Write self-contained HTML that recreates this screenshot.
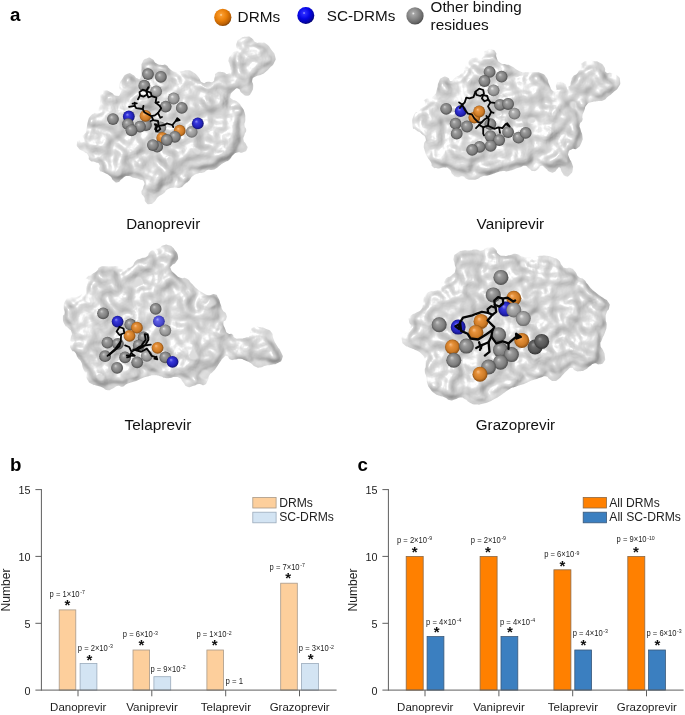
<!DOCTYPE html><html><head><meta charset="utf-8"><title>Figure</title><style>html,body{margin:0;padding:0;background:#fff}body{width:685px;height:715px;overflow:hidden}</style></head><body><svg width="685" height="715" viewBox="0 0 685 715" style="display:block;font-family:'Liberation Sans',sans-serif">
<defs>
<filter id="surf1" x="-5%" y="-5%" width="110%" height="110%" color-interpolation-filters="sRGB">
<feTurbulence type="fractalNoise" baseFrequency="0.055" numOctaves="2" seed="11" result="n0"/>
<feGaussianBlur in="n0" stdDeviation="1.0" result="n"/>
<feColorMatrix in="n" type="matrix" values="0 0 0 0 0  0 0 0 0 0  0 0 0 0 0  2.0 0 0 0 -0.5" result="h1"/>
<feGaussianBlur in="SourceAlpha" stdDeviation="4.5" result="sa"/>
<feGaussianBlur in="SourceAlpha" stdDeviation="7" result="sa7"/>
<feComposite in="sa7" in2="h1" operator="arithmetic" k1="0" k2="1" k3="0.4" k4="-0.2" result="thin"/>
<feComponentTransfer in="thin" result="inner0"><feFuncA type="linear" slope="14" intercept="-9.6"/></feComponentTransfer>
<feGaussianBlur in="inner0" stdDeviation="0.9" result="inner"/>
<feComposite in="h1" in2="sa" operator="arithmetic" k1="0.5" k2="0" k3="0.12" k4="0" result="hm0"/>
<feComposite in="hm0" in2="inner" operator="arithmetic" k1="0" k2="1" k3="0.07" k4="0" result="hm"/>
<feDiffuseLighting in="hm" surfaceScale="5.2" diffuseConstant="0.862" lighting-color="#ffffff" result="dl"><feDistantLight azimuth="225" elevation="80"/></feDiffuseLighting>
<feSpecularLighting in="hm" surfaceScale="4.5" specularConstant="0.17" specularExponent="110" lighting-color="#ffffff" result="sl"><feDistantLight azimuth="225" elevation="66"/></feSpecularLighting>
<feComposite in="dl" in2="sl" operator="arithmetic" k1="0" k2="1" k3="1" k4="0" result="dl2"/>
<feColorMatrix in="inner" type="matrix" values="0 0 0 1 0  0 0 0 1 0  0 0 0 1 0  0 0 0 0 1" result="innerw"/>
<feComposite in="dl2" in2="innerw" operator="arithmetic" k1="-0.028" k2="1" k3="0" k4="0" result="lit"/>
<feGaussianBlur in="SourceAlpha" stdDeviation="0.6" result="mask"/>
<feComposite in="lit" in2="mask" operator="in"/>
</filter>
<filter id="surf2" x="-5%" y="-5%" width="110%" height="110%" color-interpolation-filters="sRGB">
<feTurbulence type="fractalNoise" baseFrequency="0.055" numOctaves="2" seed="23" result="n0"/>
<feGaussianBlur in="n0" stdDeviation="1.0" result="n"/>
<feColorMatrix in="n" type="matrix" values="0 0 0 0 0  0 0 0 0 0  0 0 0 0 0  2.0 0 0 0 -0.5" result="h1"/>
<feGaussianBlur in="SourceAlpha" stdDeviation="4.5" result="sa"/>
<feGaussianBlur in="SourceAlpha" stdDeviation="7" result="sa7"/>
<feComposite in="sa7" in2="h1" operator="arithmetic" k1="0" k2="1" k3="0.4" k4="-0.2" result="thin"/>
<feComponentTransfer in="thin" result="inner0"><feFuncA type="linear" slope="14" intercept="-9.6"/></feComponentTransfer>
<feGaussianBlur in="inner0" stdDeviation="0.9" result="inner"/>
<feComposite in="h1" in2="sa" operator="arithmetic" k1="0.5" k2="0" k3="0.12" k4="0" result="hm0"/>
<feComposite in="hm0" in2="inner" operator="arithmetic" k1="0" k2="1" k3="0.07" k4="0" result="hm"/>
<feDiffuseLighting in="hm" surfaceScale="5.2" diffuseConstant="0.862" lighting-color="#ffffff" result="dl"><feDistantLight azimuth="225" elevation="80"/></feDiffuseLighting>
<feSpecularLighting in="hm" surfaceScale="4.5" specularConstant="0.17" specularExponent="110" lighting-color="#ffffff" result="sl"><feDistantLight azimuth="225" elevation="66"/></feSpecularLighting>
<feComposite in="dl" in2="sl" operator="arithmetic" k1="0" k2="1" k3="1" k4="0" result="dl2"/>
<feColorMatrix in="inner" type="matrix" values="0 0 0 1 0  0 0 0 1 0  0 0 0 1 0  0 0 0 0 1" result="innerw"/>
<feComposite in="dl2" in2="innerw" operator="arithmetic" k1="-0.028" k2="1" k3="0" k4="0" result="lit"/>
<feGaussianBlur in="SourceAlpha" stdDeviation="0.6" result="mask"/>
<feComposite in="lit" in2="mask" operator="in"/>
</filter>
<filter id="surf3" x="-5%" y="-5%" width="110%" height="110%" color-interpolation-filters="sRGB">
<feTurbulence type="fractalNoise" baseFrequency="0.055" numOctaves="2" seed="37" result="n0"/>
<feGaussianBlur in="n0" stdDeviation="1.0" result="n"/>
<feColorMatrix in="n" type="matrix" values="0 0 0 0 0  0 0 0 0 0  0 0 0 0 0  2.0 0 0 0 -0.5" result="h1"/>
<feGaussianBlur in="SourceAlpha" stdDeviation="4.5" result="sa"/>
<feGaussianBlur in="SourceAlpha" stdDeviation="7" result="sa7"/>
<feComposite in="sa7" in2="h1" operator="arithmetic" k1="0" k2="1" k3="0.4" k4="-0.2" result="thin"/>
<feComponentTransfer in="thin" result="inner0"><feFuncA type="linear" slope="14" intercept="-9.6"/></feComponentTransfer>
<feGaussianBlur in="inner0" stdDeviation="0.9" result="inner"/>
<feComposite in="h1" in2="sa" operator="arithmetic" k1="0.5" k2="0" k3="0.12" k4="0" result="hm0"/>
<feComposite in="hm0" in2="inner" operator="arithmetic" k1="0" k2="1" k3="0.07" k4="0" result="hm"/>
<feDiffuseLighting in="hm" surfaceScale="5.2" diffuseConstant="0.862" lighting-color="#ffffff" result="dl"><feDistantLight azimuth="225" elevation="80"/></feDiffuseLighting>
<feSpecularLighting in="hm" surfaceScale="4.5" specularConstant="0.17" specularExponent="110" lighting-color="#ffffff" result="sl"><feDistantLight azimuth="225" elevation="66"/></feSpecularLighting>
<feComposite in="dl" in2="sl" operator="arithmetic" k1="0" k2="1" k3="1" k4="0" result="dl2"/>
<feColorMatrix in="inner" type="matrix" values="0 0 0 1 0  0 0 0 1 0  0 0 0 1 0  0 0 0 0 1" result="innerw"/>
<feComposite in="dl2" in2="innerw" operator="arithmetic" k1="-0.028" k2="1" k3="0" k4="0" result="lit"/>
<feGaussianBlur in="SourceAlpha" stdDeviation="0.6" result="mask"/>
<feComposite in="lit" in2="mask" operator="in"/>
</filter>
<filter id="surf4" x="-5%" y="-5%" width="110%" height="110%" color-interpolation-filters="sRGB">
<feTurbulence type="fractalNoise" baseFrequency="0.055" numOctaves="2" seed="41" result="n0"/>
<feGaussianBlur in="n0" stdDeviation="1.0" result="n"/>
<feColorMatrix in="n" type="matrix" values="0 0 0 0 0  0 0 0 0 0  0 0 0 0 0  2.0 0 0 0 -0.5" result="h1"/>
<feGaussianBlur in="SourceAlpha" stdDeviation="4.5" result="sa"/>
<feGaussianBlur in="SourceAlpha" stdDeviation="7" result="sa7"/>
<feComposite in="sa7" in2="h1" operator="arithmetic" k1="0" k2="1" k3="0.4" k4="-0.2" result="thin"/>
<feComponentTransfer in="thin" result="inner0"><feFuncA type="linear" slope="14" intercept="-9.6"/></feComponentTransfer>
<feGaussianBlur in="inner0" stdDeviation="0.9" result="inner"/>
<feComposite in="h1" in2="sa" operator="arithmetic" k1="0.5" k2="0" k3="0.12" k4="0" result="hm0"/>
<feComposite in="hm0" in2="inner" operator="arithmetic" k1="0" k2="1" k3="0.07" k4="0" result="hm"/>
<feDiffuseLighting in="hm" surfaceScale="5.2" diffuseConstant="0.862" lighting-color="#ffffff" result="dl"><feDistantLight azimuth="225" elevation="80"/></feDiffuseLighting>
<feSpecularLighting in="hm" surfaceScale="4.5" specularConstant="0.17" specularExponent="110" lighting-color="#ffffff" result="sl"><feDistantLight azimuth="225" elevation="66"/></feSpecularLighting>
<feComposite in="dl" in2="sl" operator="arithmetic" k1="0" k2="1" k3="1" k4="0" result="dl2"/>
<feColorMatrix in="inner" type="matrix" values="0 0 0 1 0  0 0 0 1 0  0 0 0 1 0  0 0 0 0 1" result="innerw"/>
<feComposite in="dl2" in2="innerw" operator="arithmetic" k1="-0.028" k2="1" k3="0" k4="0" result="lit"/>
<feGaussianBlur in="SourceAlpha" stdDeviation="0.6" result="mask"/>
<feComposite in="lit" in2="mask" operator="in"/>
</filter>
<filter id="soft" x="-5%" y="-5%" width="110%" height="110%"><feGaussianBlur stdDeviation="0.7"/></filter>
<filter id="blur2" x="-5%" y="-5%" width="110%" height="110%"><feGaussianBlur stdDeviation="2.5"/></filter>
<radialGradient id="bump" cx="0.42" cy="0.38" r="0.6"><stop offset="0" stop-color="#ffffff" stop-opacity="0.55"/><stop offset="0.5" stop-color="#ffffff" stop-opacity="0.15"/><stop offset="1" stop-color="#ffffff" stop-opacity="0"/></radialGradient>
<radialGradient id="gg" cx="0.5" cy="0.5" r="0.54" fx="0.36" fy="0.32"><stop offset="0" stop-color="#cdcdcd"/><stop offset="0.28" stop-color="#9c9c9c"/><stop offset="0.7" stop-color="#7d7d7d"/><stop offset="1" stop-color="#434343"/></radialGradient>
<radialGradient id="gl" cx="0.5" cy="0.5" r="0.54" fx="0.36" fy="0.32"><stop offset="0" stop-color="#ececec"/><stop offset="0.28" stop-color="#b2b2b2"/><stop offset="0.7" stop-color="#949494"/><stop offset="1" stop-color="#5e5e5e"/></radialGradient>
<radialGradient id="gd" cx="0.5" cy="0.5" r="0.54" fx="0.36" fy="0.32"><stop offset="0" stop-color="#9a9a9a"/><stop offset="0.28" stop-color="#6c6c6c"/><stop offset="0.7" stop-color="#555555"/><stop offset="1" stop-color="#2c2c2c"/></radialGradient>
<radialGradient id="gbl" cx="0.5" cy="0.5" r="0.54" fx="0.36" fy="0.32"><stop offset="0" stop-color="#b0b0fa"/><stop offset="0.28" stop-color="#6060e8"/><stop offset="0.7" stop-color="#4848cc"/><stop offset="1" stop-color="#28288a"/></radialGradient>
<radialGradient id="go" cx="0.5" cy="0.5" r="0.54" fx="0.36" fy="0.32"><stop offset="0" stop-color="#f8c088"/><stop offset="0.28" stop-color="#e6913a"/><stop offset="0.7" stop-color="#cc7a26"/><stop offset="1" stop-color="#7a420c"/></radialGradient>
<radialGradient id="gb" cx="0.5" cy="0.5" r="0.54" fx="0.36" fy="0.32"><stop offset="0" stop-color="#9090f4"/><stop offset="0.28" stop-color="#3838dc"/><stop offset="0.7" stop-color="#2222b8"/><stop offset="1" stop-color="#101060"/></radialGradient>
<radialGradient id="lgo" cx="0.4" cy="0.36" r="0.68"><stop offset="0" stop-color="#ffe2b4"/><stop offset="0.13" stop-color="#f99a2c"/><stop offset="0.5" stop-color="#e87e08"/><stop offset="0.82" stop-color="#bc6004"/><stop offset="1" stop-color="#7a3e02"/></radialGradient>
<radialGradient id="lgb" cx="0.4" cy="0.36" r="0.68"><stop offset="0" stop-color="#a8a8ff"/><stop offset="0.13" stop-color="#2a2aff"/><stop offset="0.5" stop-color="#0606e6"/><stop offset="0.82" stop-color="#0404a8"/><stop offset="1" stop-color="#020260"/></radialGradient>
<radialGradient id="lgg" cx="0.4" cy="0.36" r="0.68"><stop offset="0" stop-color="#f4f4f4"/><stop offset="0.13" stop-color="#a6a6a6"/><stop offset="0.5" stop-color="#858585"/><stop offset="0.82" stop-color="#666666"/><stop offset="1" stop-color="#404040"/></radialGradient>
</defs>
<rect width="685" height="715" fill="#fff"/>
<clipPath id="cp1"><path d="M88.0,121.1 C89.5,116.4 88.3,118.8 90.7,115.8 C93.0,112.9 92.1,115.3 95.0,112.3 C98.0,109.4 97.7,111.2 99.4,107.1 C101.2,103.0 99.7,104.7 100.3,100.1 C100.9,95.4 99.7,96.3 101.2,93.1 C102.6,89.9 101.5,90.7 104.7,90.4 C107.9,90.1 107.0,90.4 110.8,92.2 C114.6,93.9 112.8,95.4 116.1,95.7 C119.3,96.0 119.3,96.3 120.4,93.1 C121.6,89.9 119.0,90.7 119.6,86.1 C120.1,81.4 119.6,83.1 122.2,79.1 C124.8,75.0 123.9,75.3 127.4,73.8 C131.0,72.3 129.5,73.2 132.7,74.7 C135.9,76.1 134.5,77.3 137.1,78.2 C139.7,79.1 139.1,80.5 140.6,77.3 C142.0,74.1 140.9,73.5 141.5,68.5 C142.0,63.6 140.6,65.8 142.3,62.4 C144.1,59.0 143.5,59.5 146.7,58.4 C149.9,57.2 148.8,57.3 152.0,58.9 C155.2,60.5 153.1,61.2 156.4,63.3 C159.6,65.3 158.4,64.5 161.6,65.0 C164.8,65.6 163.1,63.6 166.0,65.0 C168.9,66.5 167.2,67.1 170.4,69.4 C173.6,71.8 173.4,71.2 175.6,72.0 C177.8,72.9 174.8,72.3 177.0,72.0 C179.2,71.8 178.8,71.8 182.3,71.2 C185.8,70.6 184.0,70.0 187.5,70.3 C191.0,70.6 189.3,70.0 192.8,72.0 C196.3,74.1 194.8,72.9 198.0,76.4 C201.2,79.9 199.2,80.8 202.4,82.6 C205.6,84.3 204.2,82.0 207.7,81.7 C211.2,81.4 210.6,83.1 212.9,81.7 C215.3,80.2 213.5,80.2 214.7,77.3 C215.8,74.4 213.8,74.7 216.4,72.9 C219.1,71.2 218.8,71.8 222.6,72.0 C226.4,72.3 225.2,74.7 227.8,73.8 C230.4,72.9 229.9,72.6 230.4,69.4 C231.0,66.2 230.1,67.7 229.6,64.2 C229.0,60.7 227.8,62.4 228.7,58.9 C229.6,55.4 229.9,56.9 232.2,53.7 C234.5,50.4 234.2,52.8 235.7,49.3 C237.2,45.8 235.1,46.6 236.6,43.1 C238.0,39.6 236.9,40.9 240.1,38.8 C243.3,36.6 242.4,36.9 246.2,36.7 C250.0,36.4 248.3,36.0 251.5,37.9 C254.7,39.8 252.6,40.7 255.8,42.3 C259.1,43.8 257.6,42.0 261.1,42.6 C264.6,43.2 262.9,41.5 266.4,44.0 C269.9,46.5 268.7,46.1 271.6,50.1 C274.5,54.2 274.2,52.2 275.1,56.3 C276.0,60.4 276.0,58.6 274.2,62.4 C272.5,66.2 272.8,64.5 269.9,67.7 C266.9,70.9 268.4,69.7 265.5,72.0 C262.6,74.4 264.3,73.2 261.1,74.7 C257.9,76.1 258.8,74.7 255.8,76.4 C252.9,78.2 253.2,76.7 252.3,79.9 C251.5,83.1 253.5,82.0 253.2,86.1 C252.9,90.1 253.5,89.0 251.5,92.2 C249.4,95.4 250.3,95.4 247.1,95.7 C243.9,96.0 244.7,95.4 241.8,93.1 C238.9,90.7 241.0,89.6 238.3,88.7 C235.7,87.8 236.6,88.1 233.9,90.4 C231.3,92.8 231.0,92.8 230.4,95.7 C229.9,98.6 229.9,97.2 232.2,99.2 C234.5,101.2 234.2,99.2 237.4,101.8 C240.7,104.5 239.5,103.6 241.8,107.1 C244.2,110.6 243.3,108.3 244.5,112.3 C245.6,116.4 245.3,115.0 245.3,119.3 C245.3,123.7 244.2,121.9 244.5,125.5 C244.7,129.0 246.2,126.8 246.2,130.0 C246.2,133.1 245.3,131.5 244.5,134.9 C243.6,138.3 243.0,136.9 243.6,140.1 C244.2,143.4 245.0,141.6 246.2,144.5 C247.4,147.4 248.3,146.3 247.1,148.9 C245.9,151.5 245.9,151.2 242.7,152.4 C239.5,153.6 240.7,151.5 237.4,152.4 C234.2,153.3 235.7,152.7 233.1,155.0 C230.4,157.4 232.2,157.1 229.6,159.4 C226.9,161.8 228.1,160.3 225.2,162.0 C222.3,163.8 223.7,162.6 220.8,164.7 C217.9,166.7 219.3,166.4 216.4,168.2 C213.5,169.9 215.0,169.3 212.0,169.9 C209.1,170.5 210.6,169.1 207.7,169.9 C204.7,170.8 206.5,171.4 203.3,172.6 C200.1,173.7 201.5,172.3 198.0,173.4 C194.5,174.6 195.7,173.7 192.8,176.1 C189.9,178.4 191.9,177.8 189.3,180.4 C186.6,183.1 187.8,181.6 184.9,183.9 C182.0,186.3 183.7,186.3 180.5,187.4 C177.3,188.6 177.5,187.4 175.3,187.4 C173.0,187.4 176.4,186.9 173.9,187.4 C171.4,188.0 171.2,187.2 167.7,189.2 C164.2,191.2 166.6,191.0 163.4,193.6 C160.2,196.2 161.0,194.5 158.1,197.1 C155.2,199.7 157.2,199.1 154.6,201.5 C152.0,203.8 153.1,203.8 150.2,204.1 C147.3,204.4 147.9,204.7 145.8,202.3 C143.8,200.0 145.6,200.3 144.1,197.1 C142.6,193.9 141.8,195.9 141.5,192.7 C141.2,189.5 142.3,191.0 143.2,187.4 C144.1,183.9 145.3,184.8 144.1,182.2 C142.9,179.6 143.2,181.0 139.7,179.6 C136.2,178.1 137.7,179.0 133.6,177.8 C129.5,176.6 131.2,175.8 127.4,176.1 C123.7,176.4 125.4,176.6 122.2,178.7 C119.0,180.7 120.7,181.6 117.8,182.2 C114.9,182.8 116.1,182.5 113.4,180.4 C110.8,178.4 113.1,178.7 109.9,176.1 C106.7,173.4 107.3,174.6 103.8,172.6 C100.3,170.5 100.9,172.6 99.4,169.9 C98.0,167.3 100.9,167.3 99.4,164.7 C98.0,162.0 98.3,163.5 95.0,162.0 C91.8,160.6 92.1,162.6 89.8,160.3 C87.4,158.0 90.1,158.0 88.0,155.0 C86.0,152.1 86.9,153.9 83.7,151.5 C80.4,149.2 80.6,151.0 78.4,148.0 C76.2,145.1 76.7,146.3 77.0,142.8 C77.3,139.3 76.8,140.4 79.3,137.5 C81.8,134.6 82.2,136.5 84.5,134.0 C86.9,131.5 85.1,134.3 86.3,130.0 C87.4,125.7 86.6,125.8 88.0,121.1Z"/></clipPath>
<g filter="url(#surf1)"><path d="M88.0,121.1 C89.5,116.4 88.3,118.8 90.7,115.8 C93.0,112.9 92.1,115.3 95.0,112.3 C98.0,109.4 97.7,111.2 99.4,107.1 C101.2,103.0 99.7,104.7 100.3,100.1 C100.9,95.4 99.7,96.3 101.2,93.1 C102.6,89.9 101.5,90.7 104.7,90.4 C107.9,90.1 107.0,90.4 110.8,92.2 C114.6,93.9 112.8,95.4 116.1,95.7 C119.3,96.0 119.3,96.3 120.4,93.1 C121.6,89.9 119.0,90.7 119.6,86.1 C120.1,81.4 119.6,83.1 122.2,79.1 C124.8,75.0 123.9,75.3 127.4,73.8 C131.0,72.3 129.5,73.2 132.7,74.7 C135.9,76.1 134.5,77.3 137.1,78.2 C139.7,79.1 139.1,80.5 140.6,77.3 C142.0,74.1 140.9,73.5 141.5,68.5 C142.0,63.6 140.6,65.8 142.3,62.4 C144.1,59.0 143.5,59.5 146.7,58.4 C149.9,57.2 148.8,57.3 152.0,58.9 C155.2,60.5 153.1,61.2 156.4,63.3 C159.6,65.3 158.4,64.5 161.6,65.0 C164.8,65.6 163.1,63.6 166.0,65.0 C168.9,66.5 167.2,67.1 170.4,69.4 C173.6,71.8 173.4,71.2 175.6,72.0 C177.8,72.9 174.8,72.3 177.0,72.0 C179.2,71.8 178.8,71.8 182.3,71.2 C185.8,70.6 184.0,70.0 187.5,70.3 C191.0,70.6 189.3,70.0 192.8,72.0 C196.3,74.1 194.8,72.9 198.0,76.4 C201.2,79.9 199.2,80.8 202.4,82.6 C205.6,84.3 204.2,82.0 207.7,81.7 C211.2,81.4 210.6,83.1 212.9,81.7 C215.3,80.2 213.5,80.2 214.7,77.3 C215.8,74.4 213.8,74.7 216.4,72.9 C219.1,71.2 218.8,71.8 222.6,72.0 C226.4,72.3 225.2,74.7 227.8,73.8 C230.4,72.9 229.9,72.6 230.4,69.4 C231.0,66.2 230.1,67.7 229.6,64.2 C229.0,60.7 227.8,62.4 228.7,58.9 C229.6,55.4 229.9,56.9 232.2,53.7 C234.5,50.4 234.2,52.8 235.7,49.3 C237.2,45.8 235.1,46.6 236.6,43.1 C238.0,39.6 236.9,40.9 240.1,38.8 C243.3,36.6 242.4,36.9 246.2,36.7 C250.0,36.4 248.3,36.0 251.5,37.9 C254.7,39.8 252.6,40.7 255.8,42.3 C259.1,43.8 257.6,42.0 261.1,42.6 C264.6,43.2 262.9,41.5 266.4,44.0 C269.9,46.5 268.7,46.1 271.6,50.1 C274.5,54.2 274.2,52.2 275.1,56.3 C276.0,60.4 276.0,58.6 274.2,62.4 C272.5,66.2 272.8,64.5 269.9,67.7 C266.9,70.9 268.4,69.7 265.5,72.0 C262.6,74.4 264.3,73.2 261.1,74.7 C257.9,76.1 258.8,74.7 255.8,76.4 C252.9,78.2 253.2,76.7 252.3,79.9 C251.5,83.1 253.5,82.0 253.2,86.1 C252.9,90.1 253.5,89.0 251.5,92.2 C249.4,95.4 250.3,95.4 247.1,95.7 C243.9,96.0 244.7,95.4 241.8,93.1 C238.9,90.7 241.0,89.6 238.3,88.7 C235.7,87.8 236.6,88.1 233.9,90.4 C231.3,92.8 231.0,92.8 230.4,95.7 C229.9,98.6 229.9,97.2 232.2,99.2 C234.5,101.2 234.2,99.2 237.4,101.8 C240.7,104.5 239.5,103.6 241.8,107.1 C244.2,110.6 243.3,108.3 244.5,112.3 C245.6,116.4 245.3,115.0 245.3,119.3 C245.3,123.7 244.2,121.9 244.5,125.5 C244.7,129.0 246.2,126.8 246.2,130.0 C246.2,133.1 245.3,131.5 244.5,134.9 C243.6,138.3 243.0,136.9 243.6,140.1 C244.2,143.4 245.0,141.6 246.2,144.5 C247.4,147.4 248.3,146.3 247.1,148.9 C245.9,151.5 245.9,151.2 242.7,152.4 C239.5,153.6 240.7,151.5 237.4,152.4 C234.2,153.3 235.7,152.7 233.1,155.0 C230.4,157.4 232.2,157.1 229.6,159.4 C226.9,161.8 228.1,160.3 225.2,162.0 C222.3,163.8 223.7,162.6 220.8,164.7 C217.9,166.7 219.3,166.4 216.4,168.2 C213.5,169.9 215.0,169.3 212.0,169.9 C209.1,170.5 210.6,169.1 207.7,169.9 C204.7,170.8 206.5,171.4 203.3,172.6 C200.1,173.7 201.5,172.3 198.0,173.4 C194.5,174.6 195.7,173.7 192.8,176.1 C189.9,178.4 191.9,177.8 189.3,180.4 C186.6,183.1 187.8,181.6 184.9,183.9 C182.0,186.3 183.7,186.3 180.5,187.4 C177.3,188.6 177.5,187.4 175.3,187.4 C173.0,187.4 176.4,186.9 173.9,187.4 C171.4,188.0 171.2,187.2 167.7,189.2 C164.2,191.2 166.6,191.0 163.4,193.6 C160.2,196.2 161.0,194.5 158.1,197.1 C155.2,199.7 157.2,199.1 154.6,201.5 C152.0,203.8 153.1,203.8 150.2,204.1 C147.3,204.4 147.9,204.7 145.8,202.3 C143.8,200.0 145.6,200.3 144.1,197.1 C142.6,193.9 141.8,195.9 141.5,192.7 C141.2,189.5 142.3,191.0 143.2,187.4 C144.1,183.9 145.3,184.8 144.1,182.2 C142.9,179.6 143.2,181.0 139.7,179.6 C136.2,178.1 137.7,179.0 133.6,177.8 C129.5,176.6 131.2,175.8 127.4,176.1 C123.7,176.4 125.4,176.6 122.2,178.7 C119.0,180.7 120.7,181.6 117.8,182.2 C114.9,182.8 116.1,182.5 113.4,180.4 C110.8,178.4 113.1,178.7 109.9,176.1 C106.7,173.4 107.3,174.6 103.8,172.6 C100.3,170.5 100.9,172.6 99.4,169.9 C98.0,167.3 100.9,167.3 99.4,164.7 C98.0,162.0 98.3,163.5 95.0,162.0 C91.8,160.6 92.1,162.6 89.8,160.3 C87.4,158.0 90.1,158.0 88.0,155.0 C86.0,152.1 86.9,153.9 83.7,151.5 C80.4,149.2 80.6,151.0 78.4,148.0 C76.2,145.1 76.7,146.3 77.0,142.8 C77.3,139.3 76.8,140.4 79.3,137.5 C81.8,134.6 82.2,136.5 84.5,134.0 C86.9,131.5 85.1,134.3 86.3,130.0 C87.4,125.7 86.6,125.8 88.0,121.1Z" fill="#dcdcdc"/></g>
<circle cx="148.0" cy="74.1" r="5.9" fill="url(#gg)"/>
<circle cx="160.9" cy="76.9" r="5.9" fill="url(#gg)"/>
<circle cx="144.3" cy="85.7" r="5.9" fill="url(#gg)"/>
<circle cx="156.1" cy="91.3" r="5.9" fill="url(#gl)"/>
<circle cx="173.7" cy="98.5" r="5.9" fill="url(#gl)"/>
<circle cx="165.7" cy="106.6" r="5.9" fill="url(#gg)"/>
<circle cx="181.8" cy="107.9" r="5.9" fill="url(#gg)"/>
<circle cx="113.0" cy="119.1" r="5.9" fill="url(#gg)"/>
<circle cx="128.8" cy="116.5" r="5.9" fill="url(#gb)"/>
<circle cx="146.0" cy="125.0" r="5.9" fill="url(#gg)"/>
<circle cx="145.5" cy="115.9" r="5.9" fill="url(#go)"/>
<circle cx="128.0" cy="124.2" r="5.9" fill="url(#gg)"/>
<circle cx="140.0" cy="126.6" r="5.9" fill="url(#gg)"/>
<circle cx="131.5" cy="130.3" r="5.9" fill="url(#gg)"/>
<circle cx="160.4" cy="127.4" r="5.9" fill="url(#gl)"/>
<circle cx="191.7" cy="131.9" r="5.9" fill="url(#gl)"/>
<circle cx="197.8" cy="123.4" r="5.9" fill="url(#gb)"/>
<circle cx="179.7" cy="130.7" r="5.9" fill="url(#go)"/>
<circle cx="174.9" cy="136.8" r="5.9" fill="url(#gg)"/>
<circle cx="162.3" cy="137.9" r="5.9" fill="url(#go)"/>
<circle cx="166.8" cy="140.0" r="5.9" fill="url(#gg)"/>
<circle cx="157.2" cy="146.7" r="5.9" fill="url(#gg)"/>
<circle cx="152.9" cy="145.1" r="5.9" fill="url(#gg)"/>
<polyline points="139.5,92.1 142.7,89.7 146.4,90.8 147.1,94.5 143.5,96.6 140.0,95.3 139.5,92.1" fill="none" stroke="#050505" stroke-width="1.8" stroke-linejoin="round" stroke-linecap="round"/>
<polyline points="147.1,94.5 146.4,90.8 150.8,92.9 151.6,96.1 148.4,97.3 147.1,94.5" fill="none" stroke="#050505" stroke-width="1.8" stroke-linejoin="round" stroke-linecap="round"/>
<polyline points="146.4,90.8 148.4,87.3" fill="none" stroke="#050505" stroke-width="1.8" stroke-linejoin="round" stroke-linecap="round"/>
<polyline points="140.0,95.3 137.9,99.3" fill="none" stroke="#050505" stroke-width="1.8" stroke-linejoin="round" stroke-linecap="round"/>
<polyline points="151.6,96.1 156.4,97.7 155.6,102.6 159.6,105.8 161.2,108.2 158.0,113.0 160.4,117.8 162.0,117.0" fill="none" stroke="#050505" stroke-width="1.8" stroke-linejoin="round" stroke-linecap="round"/>
<polyline points="158.0,113.0 154.8,115.4 151.6,116.2 153.2,120.2 158.0,121.0 158.8,125.8 156.4,127.4 156.1,131.5" fill="none" stroke="#050505" stroke-width="1.8" stroke-linejoin="round" stroke-linecap="round"/>
<polyline points="129.1,106.9 134.7,105.8 136.3,108.2 142.7,109.0 144.3,112.2 151.6,116.2" fill="none" stroke="#050505" stroke-width="1.8" stroke-linejoin="round" stroke-linecap="round"/>
<polyline points="134.7,105.8 134.7,102.6" fill="none" stroke="#050505" stroke-width="1.8" stroke-linejoin="round" stroke-linecap="round"/>
<polyline points="132.6,103.7 136.8,103.4" fill="none" stroke="#050505" stroke-width="1.8" stroke-linejoin="round" stroke-linecap="round"/>
<polyline points="142.7,109.0 143.5,105.8" fill="none" stroke="#050505" stroke-width="1.8" stroke-linejoin="round" stroke-linecap="round"/>
<polyline points="158.8,125.8 164.4,125.0 166.8,123.4 172.4,125.0 175.7,121.0 179.7,120.2 177.3,118.1 175.7,121.0" fill="none" stroke="#050505" stroke-width="1.8" stroke-linejoin="round" stroke-linecap="round"/>
<polyline points="172.4,125.0 173.3,127.1" fill="none" stroke="#050505" stroke-width="1.8" stroke-linejoin="round" stroke-linecap="round"/>
<polyline points="154.8,124.2 158.8,125.8 160.4,129.1 157.2,131.5 155.1,129.1 156.4,126.6 154.8,124.2" fill="none" stroke="#050505" stroke-width="1.8" stroke-linejoin="round" stroke-linecap="round"/>
<polyline points="153.2,120.2 150.8,121.0" fill="none" stroke="#050505" stroke-width="1.8" stroke-linejoin="round" stroke-linecap="round"/>
<polyline points="155.6,102.6 158.8,102.1" fill="none" stroke="#050505" stroke-width="1.8" stroke-linejoin="round" stroke-linecap="round"/>
<clipPath id="cp2"><path d="M414.3,114.3 C416.6,109.5 417.2,114.1 419.5,110.8 C421.9,107.6 419.8,108.2 421.3,104.7 C422.7,101.2 421.3,102.7 423.9,100.3 C426.5,98.0 425.7,99.5 429.2,97.7 C432.7,96.0 431.8,98.0 434.4,95.1 C437.0,92.2 435.6,93.3 437.0,88.9 C438.5,84.6 437.0,85.7 438.8,81.9 C440.6,78.1 439.4,79.0 442.3,77.6 C445.2,76.1 444.6,76.4 447.6,77.6 C450.5,78.7 448.4,81.1 451.1,81.1 C453.7,81.1 452.2,79.9 455.4,77.6 C458.7,75.2 457.8,77.0 460.7,74.1 C463.6,71.1 462.2,72.9 464.2,68.8 C466.2,64.7 464.5,65.6 466.8,61.8 C469.2,58.0 468.0,59.2 471.2,57.4 C474.4,55.7 473.3,57.7 476.5,56.5 C479.7,55.4 477.6,56.0 480.8,53.9 C484.1,51.9 482.6,51.9 486.1,50.4 C489.6,48.9 488.1,48.9 491.4,49.5 C494.6,50.1 494.0,49.5 495.7,52.2 C497.5,54.8 495.2,53.9 496.6,57.4 C498.1,60.9 496.9,60.3 500.1,62.7 C503.3,65.0 502.5,63.3 506.2,64.4 C510.0,65.6 506.8,63.8 511.5,66.2 C516.2,68.5 515.0,69.4 520.3,71.4 C525.5,73.5 522.6,72.0 527.3,72.3 C531.9,72.6 529.6,72.0 534.3,72.3 C538.9,72.6 537.2,71.4 541.3,73.2 C545.4,74.9 543.9,73.8 546.5,77.6 C549.2,81.4 547.1,80.2 549.2,84.6 C551.2,88.9 550.3,88.9 552.7,90.7 C555.0,92.4 555.0,91.9 556.2,89.8 C557.3,87.8 555.0,87.2 556.2,84.6 C557.3,81.9 556.8,82.2 559.7,81.9 C562.6,81.6 561.7,82.2 564.9,83.7 C568.1,85.1 567.3,87.2 569.3,86.3 C571.4,85.4 569.9,84.3 571.1,81.1 C572.2,77.8 570.5,79.6 572.8,76.7 C575.1,73.8 576.0,75.8 578.1,72.3 C580.1,68.8 577.5,69.4 578.9,66.2 C580.4,63.0 579.5,64.4 582.4,62.7 C585.4,60.9 583.9,61.5 587.7,60.9 C591.5,60.3 589.7,60.3 593.8,60.9 C597.9,61.5 596.5,60.6 600.0,62.7 C603.5,64.7 602.3,63.8 604.3,67.0 C606.4,70.3 603.8,70.3 606.1,72.3 C608.4,74.3 607.6,72.0 611.4,73.2 C615.2,74.3 614.6,73.2 617.5,75.8 C620.4,78.4 619.8,77.3 620.1,81.1 C620.4,84.9 620.7,83.4 618.4,87.2 C616.0,91.0 616.6,89.2 613.1,92.4 C609.6,95.7 611.1,94.2 607.9,96.8 C604.6,99.5 607.0,98.9 603.5,100.3 C600.0,101.8 601.1,100.6 597.3,101.2 C593.5,101.8 595.6,100.9 592.1,102.1 C588.6,103.3 589.5,101.8 586.8,104.7 C584.2,107.6 585.7,107.0 584.2,110.8 C582.7,114.6 583.0,113.0 582.4,116.1 C581.9,119.2 583.3,117.4 582.4,120.3 C581.6,123.1 580.4,121.4 579.8,124.6 C579.2,127.8 579.8,126.1 580.7,129.9 C581.6,133.7 582.2,131.9 582.4,136.0 C582.7,140.1 583.3,138.1 581.6,142.2 C579.8,146.2 580.4,146.0 577.2,148.3 C574.0,150.6 574.9,147.7 571.9,149.2 C569.0,150.6 569.3,149.7 568.4,152.7 C567.6,155.6 568.1,154.4 569.3,157.9 C570.5,161.4 570.8,159.4 571.9,163.2 C573.1,167.0 573.4,165.5 572.8,169.3 C572.2,173.1 572.5,172.2 570.2,174.6 C567.8,176.9 568.4,176.9 565.8,176.3 C563.2,175.7 564.3,175.7 562.3,172.8 C560.3,169.9 561.4,168.7 559.7,167.6 C557.9,166.4 558.8,167.8 557.0,169.3 C555.3,170.8 556.8,171.1 554.4,171.9 C552.1,172.8 553.0,173.1 550.0,171.9 C547.1,170.8 548.6,170.5 545.7,168.4 C542.7,166.4 543.9,165.5 541.3,165.8 C538.7,166.1 540.4,167.6 537.8,169.3 C535.1,171.1 536.3,171.4 533.4,171.1 C530.5,170.8 531.9,170.2 529.0,168.4 C526.1,166.7 527.8,166.1 524.6,165.8 C521.4,165.5 524.6,165.8 519.4,167.6 C514.1,169.3 514.1,169.9 508.9,171.1 C503.6,172.2 507.1,170.8 503.6,171.1 C500.1,171.4 501.9,171.1 498.4,171.9 C494.9,172.8 496.6,172.5 493.1,173.7 C489.6,174.9 491.4,174.6 487.9,175.4 C484.3,176.3 486.1,175.1 482.6,176.3 C479.1,177.5 480.8,177.8 477.3,178.9 C473.8,180.1 475.6,179.8 472.1,179.8 C468.6,179.8 470.0,180.1 466.8,178.9 C463.6,177.8 465.7,176.9 462.4,176.3 C459.2,175.7 460.4,177.8 457.2,177.2 C454.0,176.6 455.4,177.2 452.8,174.6 C450.2,171.9 452.2,171.6 449.3,169.3 C446.4,167.0 447.8,167.8 444.1,167.6 C440.3,167.3 441.7,168.7 437.9,168.4 C434.1,168.1 435.0,168.7 432.7,166.7 C430.3,164.6 432.7,165.5 430.9,162.3 C429.2,159.1 429.5,160.8 427.4,157.0 C425.4,153.3 426.0,155.0 424.8,150.9 C423.6,146.8 423.6,148.9 423.9,144.8 C424.2,140.7 426.5,142.4 425.7,138.7 C424.8,134.9 424.5,136.3 421.3,133.4 C418.1,130.5 418.9,132.5 416.0,129.9 C413.1,127.3 413.1,130.7 412.5,125.5 C411.9,120.3 411.9,119.2 414.3,114.3Z"/></clipPath>
<g filter="url(#surf2)"><path d="M414.3,114.3 C416.6,109.5 417.2,114.1 419.5,110.8 C421.9,107.6 419.8,108.2 421.3,104.7 C422.7,101.2 421.3,102.7 423.9,100.3 C426.5,98.0 425.7,99.5 429.2,97.7 C432.7,96.0 431.8,98.0 434.4,95.1 C437.0,92.2 435.6,93.3 437.0,88.9 C438.5,84.6 437.0,85.7 438.8,81.9 C440.6,78.1 439.4,79.0 442.3,77.6 C445.2,76.1 444.6,76.4 447.6,77.6 C450.5,78.7 448.4,81.1 451.1,81.1 C453.7,81.1 452.2,79.9 455.4,77.6 C458.7,75.2 457.8,77.0 460.7,74.1 C463.6,71.1 462.2,72.9 464.2,68.8 C466.2,64.7 464.5,65.6 466.8,61.8 C469.2,58.0 468.0,59.2 471.2,57.4 C474.4,55.7 473.3,57.7 476.5,56.5 C479.7,55.4 477.6,56.0 480.8,53.9 C484.1,51.9 482.6,51.9 486.1,50.4 C489.6,48.9 488.1,48.9 491.4,49.5 C494.6,50.1 494.0,49.5 495.7,52.2 C497.5,54.8 495.2,53.9 496.6,57.4 C498.1,60.9 496.9,60.3 500.1,62.7 C503.3,65.0 502.5,63.3 506.2,64.4 C510.0,65.6 506.8,63.8 511.5,66.2 C516.2,68.5 515.0,69.4 520.3,71.4 C525.5,73.5 522.6,72.0 527.3,72.3 C531.9,72.6 529.6,72.0 534.3,72.3 C538.9,72.6 537.2,71.4 541.3,73.2 C545.4,74.9 543.9,73.8 546.5,77.6 C549.2,81.4 547.1,80.2 549.2,84.6 C551.2,88.9 550.3,88.9 552.7,90.7 C555.0,92.4 555.0,91.9 556.2,89.8 C557.3,87.8 555.0,87.2 556.2,84.6 C557.3,81.9 556.8,82.2 559.7,81.9 C562.6,81.6 561.7,82.2 564.9,83.7 C568.1,85.1 567.3,87.2 569.3,86.3 C571.4,85.4 569.9,84.3 571.1,81.1 C572.2,77.8 570.5,79.6 572.8,76.7 C575.1,73.8 576.0,75.8 578.1,72.3 C580.1,68.8 577.5,69.4 578.9,66.2 C580.4,63.0 579.5,64.4 582.4,62.7 C585.4,60.9 583.9,61.5 587.7,60.9 C591.5,60.3 589.7,60.3 593.8,60.9 C597.9,61.5 596.5,60.6 600.0,62.7 C603.5,64.7 602.3,63.8 604.3,67.0 C606.4,70.3 603.8,70.3 606.1,72.3 C608.4,74.3 607.6,72.0 611.4,73.2 C615.2,74.3 614.6,73.2 617.5,75.8 C620.4,78.4 619.8,77.3 620.1,81.1 C620.4,84.9 620.7,83.4 618.4,87.2 C616.0,91.0 616.6,89.2 613.1,92.4 C609.6,95.7 611.1,94.2 607.9,96.8 C604.6,99.5 607.0,98.9 603.5,100.3 C600.0,101.8 601.1,100.6 597.3,101.2 C593.5,101.8 595.6,100.9 592.1,102.1 C588.6,103.3 589.5,101.8 586.8,104.7 C584.2,107.6 585.7,107.0 584.2,110.8 C582.7,114.6 583.0,113.0 582.4,116.1 C581.9,119.2 583.3,117.4 582.4,120.3 C581.6,123.1 580.4,121.4 579.8,124.6 C579.2,127.8 579.8,126.1 580.7,129.9 C581.6,133.7 582.2,131.9 582.4,136.0 C582.7,140.1 583.3,138.1 581.6,142.2 C579.8,146.2 580.4,146.0 577.2,148.3 C574.0,150.6 574.9,147.7 571.9,149.2 C569.0,150.6 569.3,149.7 568.4,152.7 C567.6,155.6 568.1,154.4 569.3,157.9 C570.5,161.4 570.8,159.4 571.9,163.2 C573.1,167.0 573.4,165.5 572.8,169.3 C572.2,173.1 572.5,172.2 570.2,174.6 C567.8,176.9 568.4,176.9 565.8,176.3 C563.2,175.7 564.3,175.7 562.3,172.8 C560.3,169.9 561.4,168.7 559.7,167.6 C557.9,166.4 558.8,167.8 557.0,169.3 C555.3,170.8 556.8,171.1 554.4,171.9 C552.1,172.8 553.0,173.1 550.0,171.9 C547.1,170.8 548.6,170.5 545.7,168.4 C542.7,166.4 543.9,165.5 541.3,165.8 C538.7,166.1 540.4,167.6 537.8,169.3 C535.1,171.1 536.3,171.4 533.4,171.1 C530.5,170.8 531.9,170.2 529.0,168.4 C526.1,166.7 527.8,166.1 524.6,165.8 C521.4,165.5 524.6,165.8 519.4,167.6 C514.1,169.3 514.1,169.9 508.9,171.1 C503.6,172.2 507.1,170.8 503.6,171.1 C500.1,171.4 501.9,171.1 498.4,171.9 C494.9,172.8 496.6,172.5 493.1,173.7 C489.6,174.9 491.4,174.6 487.9,175.4 C484.3,176.3 486.1,175.1 482.6,176.3 C479.1,177.5 480.8,177.8 477.3,178.9 C473.8,180.1 475.6,179.8 472.1,179.8 C468.6,179.8 470.0,180.1 466.8,178.9 C463.6,177.8 465.7,176.9 462.4,176.3 C459.2,175.7 460.4,177.8 457.2,177.2 C454.0,176.6 455.4,177.2 452.8,174.6 C450.2,171.9 452.2,171.6 449.3,169.3 C446.4,167.0 447.8,167.8 444.1,167.6 C440.3,167.3 441.7,168.7 437.9,168.4 C434.1,168.1 435.0,168.7 432.7,166.7 C430.3,164.6 432.7,165.5 430.9,162.3 C429.2,159.1 429.5,160.8 427.4,157.0 C425.4,153.3 426.0,155.0 424.8,150.9 C423.6,146.8 423.6,148.9 423.9,144.8 C424.2,140.7 426.5,142.4 425.7,138.7 C424.8,134.9 424.5,136.3 421.3,133.4 C418.1,130.5 418.9,132.5 416.0,129.9 C413.1,127.3 413.1,130.7 412.5,125.5 C411.9,120.3 411.9,119.2 414.3,114.3Z" fill="#dcdcdc"/></g>
<circle cx="489.6" cy="71.9" r="5.9" fill="url(#gg)"/>
<circle cx="501.6" cy="76.7" r="5.9" fill="url(#gg)"/>
<circle cx="484.5" cy="81.0" r="5.9" fill="url(#gg)"/>
<circle cx="493.6" cy="90.3" r="5.9" fill="url(#gl)"/>
<circle cx="446.2" cy="108.8" r="5.9" fill="url(#gg)"/>
<circle cx="500.0" cy="104.8" r="5.9" fill="url(#gg)"/>
<circle cx="508.1" cy="104.0" r="5.9" fill="url(#gg)"/>
<circle cx="514.5" cy="113.6" r="5.9" fill="url(#gl)"/>
<circle cx="460.7" cy="111.2" r="5.9" fill="url(#gb)"/>
<circle cx="474.3" cy="117.6" r="5.9" fill="url(#go)"/>
<circle cx="479.2" cy="111.5" r="5.9" fill="url(#go)"/>
<circle cx="455.6" cy="123.7" r="5.9" fill="url(#gg)"/>
<circle cx="467.1" cy="126.5" r="5.9" fill="url(#gg)"/>
<circle cx="456.7" cy="133.7" r="5.9" fill="url(#gg)"/>
<circle cx="490.4" cy="124.1" r="5.9" fill="url(#gg)"/>
<circle cx="508.1" cy="132.1" r="5.9" fill="url(#gg)"/>
<circle cx="518.5" cy="137.7" r="5.9" fill="url(#gg)"/>
<circle cx="525.7" cy="132.9" r="5.9" fill="url(#gg)"/>
<circle cx="490.4" cy="136.1" r="5.9" fill="url(#gg)"/>
<circle cx="499.2" cy="140.1" r="5.9" fill="url(#gg)"/>
<circle cx="490.7" cy="145.8" r="5.9" fill="url(#gg)"/>
<circle cx="479.6" cy="146.9" r="5.9" fill="url(#gg)"/>
<circle cx="472.2" cy="149.9" r="5.9" fill="url(#gg)"/>
<polyline points="475.5,91.6 479.2,88.7 483.2,90.0 484.0,93.9 480.3,96.0 476.4,94.8 475.5,91.6" fill="none" stroke="#050505" stroke-width="1.8" stroke-linejoin="round" stroke-linecap="round"/>
<polyline points="483.2,95.1 487.2,96.0 488.3,99.6 484.5,101.3 481.9,98.4 483.2,95.1" fill="none" stroke="#050505" stroke-width="1.8" stroke-linejoin="round" stroke-linecap="round"/>
<polyline points="488.3,99.6 490.4,102.4 494.4,102.9" fill="none" stroke="#050505" stroke-width="1.8" stroke-linejoin="round" stroke-linecap="round"/>
<polyline points="490.4,102.4 488.0,106.4 491.2,112.0 488.8,116.8 484.8,119.2 481.6,122.4 479.2,124.9 476.0,128.1" fill="none" stroke="#050505" stroke-width="1.8" stroke-linejoin="round" stroke-linecap="round"/>
<polyline points="475.5,91.6 473.5,97.1 469.5,98.4 466.3,97.6 464.7,102.4 462.3,104.8 459.1,102.4" fill="none" stroke="#050505" stroke-width="1.8" stroke-linejoin="round" stroke-linecap="round"/>
<polyline points="462.3,104.8 464.7,109.6 467.9,113.6 471.9,114.4 474.3,118.4 478.4,122.4 481.6,122.4" fill="none" stroke="#050505" stroke-width="1.8" stroke-linejoin="round" stroke-linecap="round"/>
<polyline points="462.3,104.8 459.9,108.0" fill="none" stroke="#050505" stroke-width="1.8" stroke-linejoin="round" stroke-linecap="round"/>
<polyline points="479.2,124.9 483.2,127.3 483.2,133.7 484.0,135.3" fill="none" stroke="#050505" stroke-width="1.8" stroke-linejoin="round" stroke-linecap="round"/>
<polyline points="483.2,127.3 488.0,125.7 488.8,119.2 486.4,116.0" fill="none" stroke="#050505" stroke-width="1.8" stroke-linejoin="round" stroke-linecap="round"/>
<polyline points="488.0,125.7 494.4,128.9 498.4,127.3 502.4,128.1 505.7,124.1 509.7,126.5 507.3,123.3 505.7,124.1" fill="none" stroke="#050505" stroke-width="1.8" stroke-linejoin="round" stroke-linecap="round"/>
<polyline points="499.2,128.6 500.0,132.9" fill="none" stroke="#050505" stroke-width="1.8" stroke-linejoin="round" stroke-linecap="round"/>
<polyline points="491.2,112.0 493.6,112.8" fill="none" stroke="#050505" stroke-width="1.8" stroke-linejoin="round" stroke-linecap="round"/>
<clipPath id="cp3"><path d="M65.5,300.4 C67.6,297.1 66.4,298.1 69.9,296.9 C73.4,295.8 72.2,297.8 76.0,296.9 C79.8,296.1 78.4,296.6 81.3,294.3 C84.2,292.0 83.9,293.4 84.8,289.9 C85.7,286.4 83.3,287.9 83.9,283.8 C84.5,279.7 83.9,280.9 86.5,277.7 C89.2,274.5 88.3,276.5 91.8,274.2 C95.3,271.8 94.4,273.0 97.0,270.7 C99.7,268.3 96.8,268.6 99.7,267.2 C102.6,265.7 101.7,266.6 105.8,266.3 C109.9,266.0 108.1,266.3 111.9,266.3 C115.7,266.3 114.0,265.4 117.2,266.3 C120.4,267.2 118.4,268.3 121.6,268.9 C124.8,269.5 123.3,268.9 126.8,268.0 C130.3,267.2 129.2,268.6 132.1,266.3 C135.0,263.9 132.7,263.7 135.6,261.0 C138.5,258.4 137.0,259.9 140.8,258.4 C144.6,256.9 144.1,258.7 147.0,256.6 C149.9,254.6 147.3,254.6 149.6,252.3 C151.9,249.9 150.8,251.1 154.0,249.6 C157.2,248.2 156.0,249.3 159.2,247.9 C162.5,246.4 160.4,246.1 163.6,245.3 C166.8,244.4 165.7,244.4 168.9,245.3 C172.1,246.1 171.4,246.4 173.3,247.9 C175.1,249.3 172.8,247.0 174.4,249.6 C175.9,252.3 177.3,251.7 177.9,255.8 C178.5,259.9 178.2,258.7 176.1,261.9 C174.1,265.1 173.5,263.1 171.8,265.4 C170.0,267.7 169.7,266.0 170.9,268.9 C172.0,271.8 172.0,271.2 175.3,274.2 C178.5,277.1 176.7,276.2 180.5,277.7 C184.3,279.1 182.8,276.5 186.6,278.5 C190.4,280.6 188.4,280.3 191.9,283.8 C195.4,287.3 193.7,286.1 197.2,289.1 C200.7,292.0 198.6,290.5 202.4,292.6 C206.2,294.6 204.5,294.6 208.5,295.2 C212.6,295.8 211.5,293.4 214.7,294.3 C217.9,295.2 216.1,294.3 218.2,297.8 C220.2,301.3 219.3,300.8 220.8,304.8 C222.3,308.9 220.8,306.9 222.6,310.0 C224.3,313.1 224.9,310.9 226.1,314.0 C227.2,317.1 226.9,316.4 226.1,319.3 C225.2,322.2 223.7,319.6 223.4,322.8 C223.1,326.0 223.7,325.4 225.2,328.9 C226.6,332.4 225.5,331.5 227.8,333.3 C230.1,335.0 229.9,332.7 232.2,334.2 C234.5,335.6 232.2,336.2 234.8,337.7 C237.4,339.1 236.6,338.5 240.1,338.5 C243.6,338.5 242.1,338.5 245.3,337.7 C248.5,336.8 248.0,338.3 249.7,335.9 C251.5,333.6 249.1,333.6 250.6,330.7 C252.0,327.7 250.9,328.3 254.1,327.2 C257.3,326.0 256.1,326.6 260.2,327.2 C264.3,327.7 262.6,327.2 266.4,328.9 C270.2,330.7 269.3,329.2 271.6,332.4 C273.9,335.6 271.6,334.2 273.4,338.5 C275.1,342.9 274.2,340.9 276.9,345.6 C279.5,350.2 279.5,348.2 281.2,352.6 C283.0,356.9 283.3,355.2 282.1,358.7 C281.0,362.2 281.2,361.0 277.7,363.1 C274.2,365.1 275.7,363.9 271.6,364.8 C267.5,365.7 269.3,364.8 265.5,365.7 C261.7,366.6 263.7,367.2 260.2,367.4 C256.7,367.7 258.2,368.0 255.0,366.6 C251.8,365.1 253.8,365.1 250.6,363.1 C247.4,361.0 248.8,361.9 245.3,360.4 C241.8,359.0 243.6,359.0 240.1,358.7 C236.6,358.4 238.0,359.3 234.8,359.6 C231.6,359.9 233.1,360.7 230.4,359.6 C227.8,358.4 229.3,356.6 226.9,356.1 C224.6,355.5 225.8,355.8 223.4,357.8 C221.1,359.9 222.3,359.0 219.9,362.2 C217.6,365.4 218.8,364.2 216.4,367.4 C214.1,370.7 215.3,369.2 212.9,371.8 C210.6,374.5 211.2,372.4 209.4,375.3 C207.7,378.3 209.4,377.4 207.7,380.6 C205.9,383.8 207.1,383.8 204.2,385.0 C201.2,386.1 202.4,383.8 198.9,384.1 C195.4,384.4 197.4,385.0 193.7,385.8 C189.9,386.7 191.0,387.9 187.5,386.7 C184.0,385.6 185.8,385.3 183.1,382.3 C180.5,379.4 182.6,379.7 179.6,378.0 C176.7,376.2 177.4,377.1 174.4,377.1 C171.4,377.1 173.6,377.7 170.6,378.0 C167.6,378.3 168.9,378.5 165.4,378.0 C161.9,377.4 163.9,377.1 160.1,376.2 C156.3,375.3 157.8,375.3 154.0,375.3 C150.2,375.3 152.5,375.3 148.7,376.2 C144.9,377.1 146.4,376.5 142.6,378.0 C138.8,379.4 140.8,379.1 137.3,380.6 C133.8,382.0 135.6,381.2 132.1,382.3 C128.6,383.5 130.0,382.6 126.8,384.1 C123.6,385.6 125.4,386.1 122.4,386.7 C119.5,387.3 121.3,385.3 118.1,385.8 C114.9,386.4 116.3,387.0 112.8,388.5 C109.3,389.9 111.1,390.5 107.6,390.2 C104.1,389.9 105.8,389.1 102.3,387.6 C98.8,386.1 100.6,387.0 97.0,385.8 C93.5,384.7 95.0,386.1 91.8,384.1 C88.6,382.0 89.5,383.2 87.4,379.7 C85.4,376.2 87.1,377.4 85.7,373.6 C84.2,369.8 84.5,372.1 83.0,368.3 C81.6,364.5 83.0,365.7 81.3,362.2 C79.5,358.7 79.8,361.0 77.8,357.8 C75.7,354.6 77.2,355.2 75.1,352.6 C73.1,349.9 73.4,352.8 71.6,349.9 C69.9,347.0 70.2,347.9 69.9,343.8 C69.6,339.7 70.2,341.5 70.8,337.7 C71.4,333.9 72.5,335.6 71.6,332.4 C70.8,329.2 70.5,330.7 68.1,328.0 C65.8,325.4 66.4,328.0 64.6,324.5 C62.9,321.0 62.9,321.3 62.9,317.5 C62.9,313.7 64.3,316.6 64.6,313.1 C64.9,309.6 63.5,311.2 63.8,307.0 C64.1,302.8 63.5,303.8 65.5,300.4Z"/></clipPath>
<g filter="url(#surf3)"><path d="M65.5,300.4 C67.6,297.1 66.4,298.1 69.9,296.9 C73.4,295.8 72.2,297.8 76.0,296.9 C79.8,296.1 78.4,296.6 81.3,294.3 C84.2,292.0 83.9,293.4 84.8,289.9 C85.7,286.4 83.3,287.9 83.9,283.8 C84.5,279.7 83.9,280.9 86.5,277.7 C89.2,274.5 88.3,276.5 91.8,274.2 C95.3,271.8 94.4,273.0 97.0,270.7 C99.7,268.3 96.8,268.6 99.7,267.2 C102.6,265.7 101.7,266.6 105.8,266.3 C109.9,266.0 108.1,266.3 111.9,266.3 C115.7,266.3 114.0,265.4 117.2,266.3 C120.4,267.2 118.4,268.3 121.6,268.9 C124.8,269.5 123.3,268.9 126.8,268.0 C130.3,267.2 129.2,268.6 132.1,266.3 C135.0,263.9 132.7,263.7 135.6,261.0 C138.5,258.4 137.0,259.9 140.8,258.4 C144.6,256.9 144.1,258.7 147.0,256.6 C149.9,254.6 147.3,254.6 149.6,252.3 C151.9,249.9 150.8,251.1 154.0,249.6 C157.2,248.2 156.0,249.3 159.2,247.9 C162.5,246.4 160.4,246.1 163.6,245.3 C166.8,244.4 165.7,244.4 168.9,245.3 C172.1,246.1 171.4,246.4 173.3,247.9 C175.1,249.3 172.8,247.0 174.4,249.6 C175.9,252.3 177.3,251.7 177.9,255.8 C178.5,259.9 178.2,258.7 176.1,261.9 C174.1,265.1 173.5,263.1 171.8,265.4 C170.0,267.7 169.7,266.0 170.9,268.9 C172.0,271.8 172.0,271.2 175.3,274.2 C178.5,277.1 176.7,276.2 180.5,277.7 C184.3,279.1 182.8,276.5 186.6,278.5 C190.4,280.6 188.4,280.3 191.9,283.8 C195.4,287.3 193.7,286.1 197.2,289.1 C200.7,292.0 198.6,290.5 202.4,292.6 C206.2,294.6 204.5,294.6 208.5,295.2 C212.6,295.8 211.5,293.4 214.7,294.3 C217.9,295.2 216.1,294.3 218.2,297.8 C220.2,301.3 219.3,300.8 220.8,304.8 C222.3,308.9 220.8,306.9 222.6,310.0 C224.3,313.1 224.9,310.9 226.1,314.0 C227.2,317.1 226.9,316.4 226.1,319.3 C225.2,322.2 223.7,319.6 223.4,322.8 C223.1,326.0 223.7,325.4 225.2,328.9 C226.6,332.4 225.5,331.5 227.8,333.3 C230.1,335.0 229.9,332.7 232.2,334.2 C234.5,335.6 232.2,336.2 234.8,337.7 C237.4,339.1 236.6,338.5 240.1,338.5 C243.6,338.5 242.1,338.5 245.3,337.7 C248.5,336.8 248.0,338.3 249.7,335.9 C251.5,333.6 249.1,333.6 250.6,330.7 C252.0,327.7 250.9,328.3 254.1,327.2 C257.3,326.0 256.1,326.6 260.2,327.2 C264.3,327.7 262.6,327.2 266.4,328.9 C270.2,330.7 269.3,329.2 271.6,332.4 C273.9,335.6 271.6,334.2 273.4,338.5 C275.1,342.9 274.2,340.9 276.9,345.6 C279.5,350.2 279.5,348.2 281.2,352.6 C283.0,356.9 283.3,355.2 282.1,358.7 C281.0,362.2 281.2,361.0 277.7,363.1 C274.2,365.1 275.7,363.9 271.6,364.8 C267.5,365.7 269.3,364.8 265.5,365.7 C261.7,366.6 263.7,367.2 260.2,367.4 C256.7,367.7 258.2,368.0 255.0,366.6 C251.8,365.1 253.8,365.1 250.6,363.1 C247.4,361.0 248.8,361.9 245.3,360.4 C241.8,359.0 243.6,359.0 240.1,358.7 C236.6,358.4 238.0,359.3 234.8,359.6 C231.6,359.9 233.1,360.7 230.4,359.6 C227.8,358.4 229.3,356.6 226.9,356.1 C224.6,355.5 225.8,355.8 223.4,357.8 C221.1,359.9 222.3,359.0 219.9,362.2 C217.6,365.4 218.8,364.2 216.4,367.4 C214.1,370.7 215.3,369.2 212.9,371.8 C210.6,374.5 211.2,372.4 209.4,375.3 C207.7,378.3 209.4,377.4 207.7,380.6 C205.9,383.8 207.1,383.8 204.2,385.0 C201.2,386.1 202.4,383.8 198.9,384.1 C195.4,384.4 197.4,385.0 193.7,385.8 C189.9,386.7 191.0,387.9 187.5,386.7 C184.0,385.6 185.8,385.3 183.1,382.3 C180.5,379.4 182.6,379.7 179.6,378.0 C176.7,376.2 177.4,377.1 174.4,377.1 C171.4,377.1 173.6,377.7 170.6,378.0 C167.6,378.3 168.9,378.5 165.4,378.0 C161.9,377.4 163.9,377.1 160.1,376.2 C156.3,375.3 157.8,375.3 154.0,375.3 C150.2,375.3 152.5,375.3 148.7,376.2 C144.9,377.1 146.4,376.5 142.6,378.0 C138.8,379.4 140.8,379.1 137.3,380.6 C133.8,382.0 135.6,381.2 132.1,382.3 C128.6,383.5 130.0,382.6 126.8,384.1 C123.6,385.6 125.4,386.1 122.4,386.7 C119.5,387.3 121.3,385.3 118.1,385.8 C114.9,386.4 116.3,387.0 112.8,388.5 C109.3,389.9 111.1,390.5 107.6,390.2 C104.1,389.9 105.8,389.1 102.3,387.6 C98.8,386.1 100.6,387.0 97.0,385.8 C93.5,384.7 95.0,386.1 91.8,384.1 C88.6,382.0 89.5,383.2 87.4,379.7 C85.4,376.2 87.1,377.4 85.7,373.6 C84.2,369.8 84.5,372.1 83.0,368.3 C81.6,364.5 83.0,365.7 81.3,362.2 C79.5,358.7 79.8,361.0 77.8,357.8 C75.7,354.6 77.2,355.2 75.1,352.6 C73.1,349.9 73.4,352.8 71.6,349.9 C69.9,347.0 70.2,347.9 69.9,343.8 C69.6,339.7 70.2,341.5 70.8,337.7 C71.4,333.9 72.5,335.6 71.6,332.4 C70.8,329.2 70.5,330.7 68.1,328.0 C65.8,325.4 66.4,328.0 64.6,324.5 C62.9,321.0 62.9,321.3 62.9,317.5 C62.9,313.7 64.3,316.6 64.6,313.1 C64.9,309.6 63.5,311.2 63.8,307.0 C64.1,302.8 63.5,303.8 65.5,300.4Z" fill="#dcdcdc"/></g>
<circle cx="103.1" cy="313.3" r="5.9" fill="url(#gg)"/>
<circle cx="155.7" cy="308.9" r="5.9" fill="url(#gg)"/>
<circle cx="130.4" cy="324.5" r="5.9" fill="url(#gg)"/>
<circle cx="117.6" cy="321.6" r="5.9" fill="url(#gb)"/>
<circle cx="136.9" cy="327.7" r="5.9" fill="url(#go)"/>
<circle cx="129.5" cy="335.8" r="5.9" fill="url(#go)"/>
<circle cx="158.9" cy="321.3" r="5.9" fill="url(#gbl)"/>
<circle cx="165.3" cy="330.5" r="5.9" fill="url(#gl)"/>
<circle cx="107.5" cy="342.7" r="5.9" fill="url(#gg)"/>
<circle cx="117.9" cy="343.8" r="5.9" fill="url(#gg)"/>
<circle cx="143.6" cy="337.4" r="5.9" fill="url(#gg)"/>
<circle cx="138.8" cy="345.4" r="5.9" fill="url(#gg)"/>
<circle cx="105.1" cy="356.2" r="5.9" fill="url(#gg)"/>
<circle cx="125.1" cy="357.4" r="5.9" fill="url(#gg)"/>
<circle cx="146.8" cy="355.8" r="5.9" fill="url(#gl)"/>
<circle cx="137.2" cy="362.3" r="5.9" fill="url(#gg)"/>
<circle cx="117.1" cy="367.9" r="5.9" fill="url(#gg)"/>
<circle cx="157.6" cy="347.8" r="5.9" fill="url(#go)"/>
<circle cx="165.3" cy="357.4" r="5.9" fill="url(#gg)"/>
<circle cx="172.5" cy="361.8" r="5.9" fill="url(#gb)"/>
<polyline points="119.5,326.9 123.5,328.5 124.3,333.0 119.5,335.0 116.6,331.4 119.5,326.9" fill="none" stroke="#050505" stroke-width="1.8" stroke-linejoin="round" stroke-linecap="round"/>
<polyline points="121.1,335.0 120.7,341.4 115.5,348.6 107.5,355.8" fill="none" stroke="#050505" stroke-width="1.8" stroke-linejoin="round" stroke-linecap="round"/>
<polyline points="120.7,341.4 119.5,346.2 109.1,355.0" fill="none" stroke="#050505" stroke-width="1.8" stroke-linejoin="round" stroke-linecap="round"/>
<polyline points="125.1,345.4 129.2,347.0 131.6,351.8 130.0,356.6 127.1,357.4" fill="none" stroke="#050505" stroke-width="1.8" stroke-linejoin="round" stroke-linecap="round"/>
<polyline points="131.6,351.8 138.0,347.8 145.2,345.4 148.4,339.8 147.6,334.6 144.7,334.2 145.7,339.8 142.0,344.6" fill="none" stroke="#050505" stroke-width="1.8" stroke-linejoin="round" stroke-linecap="round"/>
<polyline points="133.2,349.4 141.2,351.8 146.8,348.6 149.2,351.8 151.6,355.8 156.5,357.4 157.3,359.4 154.4,358.7 156.5,356.6" fill="none" stroke="#050505" stroke-width="1.8" stroke-linejoin="round" stroke-linecap="round"/>
<polyline points="126.8,355.5 134.8,355.8 131.6,353.4" fill="none" stroke="#050505" stroke-width="1.8" stroke-linejoin="round" stroke-linecap="round"/>
<polyline points="138.0,347.8 140.4,346.2 150.8,344.6" fill="none" stroke="#050505" stroke-width="1.8" stroke-linejoin="round" stroke-linecap="round"/>
<polyline points="136.4,350.2 142.8,347.0" fill="none" stroke="#050505" stroke-width="1.8" stroke-linejoin="round" stroke-linecap="round"/>
<clipPath id="cp4"><path d="M416.0,312.7 C419.8,310.4 418.9,312.4 421.3,309.2 C423.6,306.0 421.9,307.4 423.0,303.1 C424.2,298.7 422.7,299.9 424.8,296.1 C426.8,292.3 425.7,293.4 429.2,291.7 C432.7,289.9 431.5,292.0 435.3,290.8 C439.1,289.6 438.5,290.8 440.6,288.2 C442.6,285.6 439.7,286.1 441.4,282.9 C443.2,279.7 442.3,281.2 445.8,278.5 C449.3,275.9 448.7,278.0 451.9,275.0 C455.1,272.1 454.6,273.6 455.4,269.8 C456.3,266.0 455.1,267.7 454.6,263.7 C454.0,259.6 452.8,261.0 453.7,257.5 C454.6,254.0 454.0,255.5 457.2,253.1 C460.4,250.8 459.2,251.4 463.3,250.5 C467.4,249.6 465.4,250.8 469.5,250.5 C473.5,250.2 471.5,249.6 475.6,249.6 C479.7,249.6 478.2,251.1 481.7,250.5 C485.2,249.9 482.9,249.1 486.1,247.9 C489.3,246.7 488.1,246.4 491.4,247.0 C494.6,247.6 493.4,247.3 495.7,249.6 C498.1,252.0 495.7,252.0 498.4,254.0 C501.0,256.1 499.7,255.5 503.6,255.8 C507.6,256.1 506.0,255.5 510.3,254.9 C514.5,254.3 512.3,253.4 516.4,254.0 C520.5,254.6 518.4,255.5 522.5,256.6 C526.6,257.8 524.6,257.5 528.7,257.5 C532.7,257.5 530.7,257.2 534.8,256.6 C538.9,256.1 536.8,256.1 540.9,255.8 C545.0,255.5 543.0,255.2 547.0,255.8 C551.1,256.4 549.4,256.1 553.2,257.5 C557.0,259.0 555.5,257.5 558.4,260.1 C561.4,262.8 559.6,262.8 561.9,265.4 C564.3,268.0 562.5,267.2 565.4,268.0 C568.4,268.9 567.5,266.9 570.7,268.0 C573.9,269.2 572.4,268.6 575.1,271.5 C577.7,274.5 575.7,274.2 578.6,276.8 C581.5,279.4 580.9,277.1 583.8,279.4 C586.8,281.8 584.7,280.6 587.3,283.8 C590.0,287.0 588.5,285.8 591.7,289.1 C594.9,292.3 593.2,290.5 597.0,293.4 C600.8,296.4 599.3,294.9 603.1,297.8 C606.9,300.7 606.3,299.0 608.4,302.2 C610.4,305.4 609.8,304.0 609.2,307.4 C608.7,310.9 607.8,308.9 606.6,312.6 C605.4,316.4 605.7,314.4 605.7,318.8 C605.7,323.1 606.9,321.1 606.6,325.8 C606.3,330.4 606.3,328.4 604.9,332.8 C603.4,337.2 603.7,334.8 602.2,338.9 C600.8,343.0 600.2,341.2 600.5,345.0 C600.8,348.8 601.6,346.5 603.1,350.3 C604.6,354.1 604.6,352.6 604.9,356.4 C605.2,360.2 605.7,359.1 604.0,361.7 C602.2,364.3 602.8,363.7 599.6,364.3 C596.4,364.9 597.6,362.8 594.3,363.4 C591.1,364.0 592.9,364.0 590.0,366.1 C587.0,368.1 588.8,367.8 585.6,369.6 C582.4,371.3 583.8,371.0 580.3,371.3 C576.8,371.6 578.0,371.6 575.1,370.4 C572.2,369.3 574.2,367.8 571.6,367.8 C568.9,367.8 570.1,368.1 567.2,370.4 C564.3,372.8 565.7,371.9 562.8,374.8 C559.9,377.7 561.4,377.2 558.4,379.2 C555.5,381.2 557.0,381.0 554.1,381.0 C551.1,381.0 552.3,380.7 549.7,379.2 C547.0,377.7 549.1,377.2 546.2,376.6 C543.3,376.0 544.4,376.6 540.9,377.4 C537.4,378.3 539.2,378.0 535.7,379.2 C532.2,380.4 533.9,379.5 530.4,381.0 C526.9,382.4 528.7,382.1 525.1,383.6 C521.6,385.0 523.4,384.2 519.9,385.3 C516.4,386.5 518.1,385.8 514.6,387.1 C511.1,388.4 514.2,386.3 509.4,389.2 C504.5,392.1 505.2,392.5 500.1,395.8 C495.0,399.2 497.8,397.3 494.0,399.3 C490.2,401.4 492.5,400.5 488.7,402.0 C484.9,403.4 486.7,402.9 482.6,403.7 C478.5,404.6 480.6,404.9 476.5,404.6 C472.4,404.3 474.1,404.6 470.3,402.9 C466.5,401.1 468.3,401.1 465.1,399.3 C461.9,397.6 463.9,397.6 460.7,397.6 C457.5,397.6 458.9,398.5 455.4,399.3 C451.9,400.2 453.7,400.8 450.2,400.2 C446.7,399.6 448.4,399.1 444.9,397.6 C441.4,396.1 443.2,397.3 439.7,395.8 C436.2,394.4 437.6,395.6 434.4,393.2 C431.2,390.9 432.4,392.0 430.0,388.8 C427.7,385.6 428.6,387.4 427.4,383.6 C426.2,379.8 427.4,381.5 426.5,377.4 C425.7,373.4 425.1,375.4 424.8,371.3 C424.5,367.2 425.7,369.3 425.7,365.2 C425.7,361.1 426.2,362.8 424.8,359.1 C423.3,355.3 424.2,356.7 421.3,353.8 C418.4,350.9 419.8,352.3 416.0,350.3 C412.2,348.3 413.7,349.4 409.9,347.7 C406.1,345.9 407.3,347.4 404.6,345.0 C402.0,342.7 402.6,343.9 402.0,340.7 C401.4,337.4 401.1,338.3 402.9,335.4 C404.6,332.5 404.6,334.8 407.3,331.9 C409.9,329.0 410.2,330.1 410.8,326.6 C411.4,323.1 409.3,324.9 409.0,321.4 C408.7,317.9 407.6,319.0 409.9,316.1 C412.2,313.2 412.2,315.0 416.0,312.7Z"/></clipPath>
<g filter="url(#surf4)"><path d="M416.0,312.7 C419.8,310.4 418.9,312.4 421.3,309.2 C423.6,306.0 421.9,307.4 423.0,303.1 C424.2,298.7 422.7,299.9 424.8,296.1 C426.8,292.3 425.7,293.4 429.2,291.7 C432.7,289.9 431.5,292.0 435.3,290.8 C439.1,289.6 438.5,290.8 440.6,288.2 C442.6,285.6 439.7,286.1 441.4,282.9 C443.2,279.7 442.3,281.2 445.8,278.5 C449.3,275.9 448.7,278.0 451.9,275.0 C455.1,272.1 454.6,273.6 455.4,269.8 C456.3,266.0 455.1,267.7 454.6,263.7 C454.0,259.6 452.8,261.0 453.7,257.5 C454.6,254.0 454.0,255.5 457.2,253.1 C460.4,250.8 459.2,251.4 463.3,250.5 C467.4,249.6 465.4,250.8 469.5,250.5 C473.5,250.2 471.5,249.6 475.6,249.6 C479.7,249.6 478.2,251.1 481.7,250.5 C485.2,249.9 482.9,249.1 486.1,247.9 C489.3,246.7 488.1,246.4 491.4,247.0 C494.6,247.6 493.4,247.3 495.7,249.6 C498.1,252.0 495.7,252.0 498.4,254.0 C501.0,256.1 499.7,255.5 503.6,255.8 C507.6,256.1 506.0,255.5 510.3,254.9 C514.5,254.3 512.3,253.4 516.4,254.0 C520.5,254.6 518.4,255.5 522.5,256.6 C526.6,257.8 524.6,257.5 528.7,257.5 C532.7,257.5 530.7,257.2 534.8,256.6 C538.9,256.1 536.8,256.1 540.9,255.8 C545.0,255.5 543.0,255.2 547.0,255.8 C551.1,256.4 549.4,256.1 553.2,257.5 C557.0,259.0 555.5,257.5 558.4,260.1 C561.4,262.8 559.6,262.8 561.9,265.4 C564.3,268.0 562.5,267.2 565.4,268.0 C568.4,268.9 567.5,266.9 570.7,268.0 C573.9,269.2 572.4,268.6 575.1,271.5 C577.7,274.5 575.7,274.2 578.6,276.8 C581.5,279.4 580.9,277.1 583.8,279.4 C586.8,281.8 584.7,280.6 587.3,283.8 C590.0,287.0 588.5,285.8 591.7,289.1 C594.9,292.3 593.2,290.5 597.0,293.4 C600.8,296.4 599.3,294.9 603.1,297.8 C606.9,300.7 606.3,299.0 608.4,302.2 C610.4,305.4 609.8,304.0 609.2,307.4 C608.7,310.9 607.8,308.9 606.6,312.6 C605.4,316.4 605.7,314.4 605.7,318.8 C605.7,323.1 606.9,321.1 606.6,325.8 C606.3,330.4 606.3,328.4 604.9,332.8 C603.4,337.2 603.7,334.8 602.2,338.9 C600.8,343.0 600.2,341.2 600.5,345.0 C600.8,348.8 601.6,346.5 603.1,350.3 C604.6,354.1 604.6,352.6 604.9,356.4 C605.2,360.2 605.7,359.1 604.0,361.7 C602.2,364.3 602.8,363.7 599.6,364.3 C596.4,364.9 597.6,362.8 594.3,363.4 C591.1,364.0 592.9,364.0 590.0,366.1 C587.0,368.1 588.8,367.8 585.6,369.6 C582.4,371.3 583.8,371.0 580.3,371.3 C576.8,371.6 578.0,371.6 575.1,370.4 C572.2,369.3 574.2,367.8 571.6,367.8 C568.9,367.8 570.1,368.1 567.2,370.4 C564.3,372.8 565.7,371.9 562.8,374.8 C559.9,377.7 561.4,377.2 558.4,379.2 C555.5,381.2 557.0,381.0 554.1,381.0 C551.1,381.0 552.3,380.7 549.7,379.2 C547.0,377.7 549.1,377.2 546.2,376.6 C543.3,376.0 544.4,376.6 540.9,377.4 C537.4,378.3 539.2,378.0 535.7,379.2 C532.2,380.4 533.9,379.5 530.4,381.0 C526.9,382.4 528.7,382.1 525.1,383.6 C521.6,385.0 523.4,384.2 519.9,385.3 C516.4,386.5 518.1,385.8 514.6,387.1 C511.1,388.4 514.2,386.3 509.4,389.2 C504.5,392.1 505.2,392.5 500.1,395.8 C495.0,399.2 497.8,397.3 494.0,399.3 C490.2,401.4 492.5,400.5 488.7,402.0 C484.9,403.4 486.7,402.9 482.6,403.7 C478.5,404.6 480.6,404.9 476.5,404.6 C472.4,404.3 474.1,404.6 470.3,402.9 C466.5,401.1 468.3,401.1 465.1,399.3 C461.9,397.6 463.9,397.6 460.7,397.6 C457.5,397.6 458.9,398.5 455.4,399.3 C451.9,400.2 453.7,400.8 450.2,400.2 C446.7,399.6 448.4,399.1 444.9,397.6 C441.4,396.1 443.2,397.3 439.7,395.8 C436.2,394.4 437.6,395.6 434.4,393.2 C431.2,390.9 432.4,392.0 430.0,388.8 C427.7,385.6 428.6,387.4 427.4,383.6 C426.2,379.8 427.4,381.5 426.5,377.4 C425.7,373.4 425.1,375.4 424.8,371.3 C424.5,367.2 425.7,369.3 425.7,365.2 C425.7,361.1 426.2,362.8 424.8,359.1 C423.3,355.3 424.2,356.7 421.3,353.8 C418.4,350.9 419.8,352.3 416.0,350.3 C412.2,348.3 413.7,349.4 409.9,347.7 C406.1,345.9 407.3,347.4 404.6,345.0 C402.0,342.7 402.6,343.9 402.0,340.7 C401.4,337.4 401.1,338.3 402.9,335.4 C404.6,332.5 404.6,334.8 407.3,331.9 C409.9,329.0 410.2,330.1 410.8,326.6 C411.4,323.1 409.3,324.9 409.0,321.4 C408.7,317.9 407.6,319.0 409.9,316.1 C412.2,313.2 412.2,315.0 416.0,312.7Z" fill="#dcdcdc"/></g>
<circle cx="500.9" cy="277.4" r="7.5" fill="url(#gg)"/>
<circle cx="493.3" cy="294.9" r="7.5" fill="url(#gg)"/>
<circle cx="513.8" cy="298.3" r="7.5" fill="url(#go)"/>
<circle cx="505.7" cy="309.1" r="7.5" fill="url(#gb)"/>
<circle cx="513.8" cy="310.0" r="7.5" fill="url(#gl)"/>
<circle cx="523.3" cy="318.6" r="7.5" fill="url(#gl)"/>
<circle cx="439.2" cy="324.8" r="7.5" fill="url(#gg)"/>
<circle cx="458.2" cy="327.1" r="7.5" fill="url(#gb)"/>
<circle cx="481.0" cy="321.4" r="7.5" fill="url(#go)"/>
<circle cx="475.9" cy="332.4" r="7.5" fill="url(#go)"/>
<circle cx="498.6" cy="334.7" r="7.5" fill="url(#gg)"/>
<circle cx="452.5" cy="347.0" r="7.5" fill="url(#go)"/>
<circle cx="466.4" cy="346.1" r="7.5" fill="url(#gg)"/>
<circle cx="453.8" cy="360.3" r="7.5" fill="url(#gg)"/>
<circle cx="535.1" cy="347.0" r="7.5" fill="url(#gd)"/>
<circle cx="541.7" cy="341.4" r="7.5" fill="url(#gd)"/>
<circle cx="521.8" cy="340.4" r="7.5" fill="url(#go)"/>
<circle cx="500.5" cy="349.9" r="7.5" fill="url(#gg)"/>
<circle cx="511.4" cy="354.6" r="7.5" fill="url(#gg)"/>
<circle cx="500.5" cy="362.2" r="7.5" fill="url(#gg)"/>
<circle cx="488.6" cy="367.0" r="7.5" fill="url(#gg)"/>
<circle cx="480.0" cy="374.2" r="7.5" fill="url(#go)"/>
<polyline points="494.3,300.5 498.1,297.1 502.8,298.7 503.2,303.4 499.4,306.6 494.8,304.7 494.3,300.5" fill="none" stroke="#050505" stroke-width="2.3" stroke-linejoin="round" stroke-linecap="round"/>
<polyline points="487.6,309.1 491.4,306.2 495.6,307.8 496.2,311.9 492.4,314.8 488.2,312.9 487.6,309.1" fill="none" stroke="#050505" stroke-width="2.3" stroke-linejoin="round" stroke-linecap="round"/>
<polyline points="494.8,304.7 495.6,307.8" fill="none" stroke="#050505" stroke-width="2.3" stroke-linejoin="round" stroke-linecap="round"/>
<polyline points="502.8,298.7 507.6,297.7 513.3,301.5 515.1,300.5" fill="none" stroke="#050505" stroke-width="2.3" stroke-linejoin="round" stroke-linecap="round"/>
<polyline points="488.2,312.9 481.9,311.9 476.2,313.8 471.5,315.7 463.0,317.6 460.1,322.4 461.1,330.9 467.7,333.8 470.5,338.5 478.1,339.5 485.7,334.7 492.4,330.0 494.3,327.1 487.6,320.5 492.4,314.8" fill="none" stroke="#050505" stroke-width="2.3" stroke-linejoin="round" stroke-linecap="round"/>
<polyline points="455.4,326.2 459.2,324.3 459.2,329.0 455.4,326.2" fill="none" stroke="#050505" stroke-width="2.3" stroke-linejoin="round" stroke-linecap="round"/>
<polyline points="492.4,330.0 491.4,336.6 496.2,343.3 502.8,341.4 508.5,343.3 515.1,337.6 519.9,336.6" fill="none" stroke="#050505" stroke-width="2.3" stroke-linejoin="round" stroke-linecap="round"/>
<polyline points="516.1,333.8 520.8,337.0 516.5,338.5 516.1,333.8" fill="none" stroke="#050505" stroke-width="2.3" stroke-linejoin="round" stroke-linecap="round"/>
<polyline points="508.5,343.3 508.5,348.9" fill="none" stroke="#050505" stroke-width="2.3" stroke-linejoin="round" stroke-linecap="round"/>
<polyline points="491.4,336.6 488.6,342.3 481.9,345.1 480.0,349.9" fill="none" stroke="#050505" stroke-width="2.3" stroke-linejoin="round" stroke-linecap="round"/>
<polyline points="481.9,345.1 476.2,348.0" fill="none" stroke="#050505" stroke-width="2.3" stroke-linejoin="round" stroke-linecap="round"/>
<polyline points="479.1,342.3 481.0,348.0" fill="none" stroke="#050505" stroke-width="2.3" stroke-linejoin="round" stroke-linecap="round"/>
<polyline points="488.6,342.3 489.5,351.8 484.8,355.6" fill="none" stroke="#050505" stroke-width="2.3" stroke-linejoin="round" stroke-linecap="round"/>
<text x="10.1" y="21.2" font-size="18.70" font-weight="bold" fill="#000">a</text>
<text x="10.1" y="471.3" font-size="18.70" font-weight="bold" fill="#000">b</text>
<text x="357.6" y="471.3" font-size="18.70" font-weight="bold" fill="#000">c</text>
<circle cx="222.8" cy="17.3" r="8.6" fill="url(#lgo)"/>
<circle cx="305.8" cy="15.4" r="8.5" fill="url(#lgb)"/>
<circle cx="415" cy="15.9" r="8.6" fill="url(#lgg)"/>
<text x="237.6" y="21.6" font-size="15.20" textLength="42.6" lengthAdjust="spacingAndGlyphs" fill="#111">DRMs</text>
<text x="326.8" y="21.2" font-size="15.20" textLength="68.6" lengthAdjust="spacingAndGlyphs" fill="#111">SC-DRMs</text>
<text x="430.6" y="11.7" font-size="15.20" textLength="91.0" lengthAdjust="spacingAndGlyphs" fill="#111">Other binding</text>
<text x="430.6" y="29.6" font-size="15.20" textLength="58.0" lengthAdjust="spacingAndGlyphs" fill="#111">residues</text>
<text x="126.2" y="229.0" font-size="15.10" textLength="74.0" lengthAdjust="spacingAndGlyphs" fill="#111">Danoprevir</text>
<text x="476.6" y="229.0" font-size="15.10" textLength="67.6" lengthAdjust="spacingAndGlyphs" fill="#111">Vaniprevir</text>
<text x="124.5" y="429.9" font-size="15.10" textLength="66.8" lengthAdjust="spacingAndGlyphs" fill="#111">Telaprevir</text>
<text x="475.8" y="430.0" font-size="15.10" textLength="79.3" lengthAdjust="spacingAndGlyphs" fill="#111">Grazoprevir</text>
<rect x="59.2" y="609.9" width="16.6" height="80.2" fill="#fdcf9c" stroke="#a89a8a" stroke-width="0.8"/>
<rect x="80.1" y="663.4" width="16.8" height="26.7" fill="#d3e4f3" stroke="#9aaabb" stroke-width="0.8"/>
<rect x="133.0" y="650.0" width="16.6" height="40.1" fill="#fdcf9c" stroke="#a89a8a" stroke-width="0.8"/>
<rect x="153.9" y="676.7" width="16.8" height="13.4" fill="#d3e4f3" stroke="#9aaabb" stroke-width="0.8"/>
<rect x="206.9" y="650.0" width="16.6" height="40.1" fill="#fdcf9c" stroke="#a89a8a" stroke-width="0.8"/>
<rect x="280.7" y="583.2" width="16.6" height="106.9" fill="#fdcf9c" stroke="#a89a8a" stroke-width="0.8"/>
<rect x="301.6" y="663.4" width="16.8" height="26.7" fill="#d3e4f3" stroke="#9aaabb" stroke-width="0.8"/>
<path d="M41.4,489.1 V690.6 M35.4,690.1 H336.6" stroke="#5f5f5f" stroke-width="1" fill="none"/>
<path d="M35.4,623.3 H41.4" stroke="#5f5f5f" stroke-width="1"/>
<path d="M35.4,556.4 H41.4" stroke="#5f5f5f" stroke-width="1"/>
<path d="M35.4,489.6 H41.4" stroke="#5f5f5f" stroke-width="1"/>
<text x="30.6" y="694.7" font-size="10.80" text-anchor="end" fill="#1c1c1c">0</text>
<text x="30.6" y="627.9" font-size="10.80" text-anchor="end" fill="#1c1c1c">5</text>
<text x="30.6" y="561.0" font-size="10.80" text-anchor="end" fill="#1c1c1c">10</text>
<text x="30.6" y="494.2" font-size="10.80" text-anchor="end" fill="#1c1c1c">15</text>
<path d="M78.0,690.1 V696.3" stroke="#5f5f5f" stroke-width="1"/>
<text x="50.1" y="711.0" font-size="11.70" textLength="56.2" lengthAdjust="spacingAndGlyphs" fill="#1c1c1c">Danoprevir</text>
<path d="M151.8,690.1 V696.3" stroke="#5f5f5f" stroke-width="1"/>
<text x="126.2" y="711.0" font-size="11.70" textLength="51.6" lengthAdjust="spacingAndGlyphs" fill="#1c1c1c">Vaniprevir</text>
<path d="M225.7,690.1 V696.3" stroke="#5f5f5f" stroke-width="1"/>
<text x="200.8" y="711.0" font-size="11.70" textLength="50.2" lengthAdjust="spacingAndGlyphs" fill="#1c1c1c">Telaprevir</text>
<path d="M299.5,690.1 V696.3" stroke="#5f5f5f" stroke-width="1"/>
<text x="269.7" y="711.0" font-size="11.70" textLength="60.0" lengthAdjust="spacingAndGlyphs" fill="#1c1c1c">Grazoprevir</text>
<text transform="translate(10.4,589.9) rotate(-90)" text-anchor="middle" font-size="12.1" textLength="43" lengthAdjust="spacingAndGlyphs" fill="#222">Number</text>
<rect x="252.8" y="497.4" width="23.3" height="10.6" fill="#fdcf9c" stroke="#a89a8a" stroke-width="0.8"/>
<rect x="252.8" y="512.2" width="23.3" height="10.6" fill="#d3e4f3" stroke="#9aaabb" stroke-width="0.8"/>
<text x="279.2" y="506.5" font-size="12.10" textLength="33.7" lengthAdjust="spacingAndGlyphs" fill="#222">DRMs</text>
<text x="279.2" y="521.2" font-size="12.10" textLength="54.7" lengthAdjust="spacingAndGlyphs" fill="#222">SC-DRMs</text>
<text x="49.6" y="596.7" font-size="8.3" fill="#1c1c1c"><tspan textLength="30.0" lengthAdjust="spacingAndGlyphs">p = 1×10</tspan><tspan dx="0.6" dy="-2.6" font-size="5.2">-7</tspan></text>
<text x="67.4" y="609.8" font-size="15.00" text-anchor="middle" font-weight="bold" fill="#111">*</text>
<text x="77.8" y="650.5" font-size="8.3" fill="#1c1c1c"><tspan textLength="30.0" lengthAdjust="spacingAndGlyphs">p = 2×10</tspan><tspan dx="0.6" dy="-2.6" font-size="5.2">-3</tspan></text>
<text x="89.4" y="664.7" font-size="15.00" text-anchor="middle" font-weight="bold" fill="#111">*</text>
<text x="122.8" y="637.2" font-size="8.3" fill="#1c1c1c"><tspan textLength="30.0" lengthAdjust="spacingAndGlyphs">p = 6×10</tspan><tspan dx="0.6" dy="-2.6" font-size="5.2">-3</tspan></text>
<text x="141.5" y="650.1" font-size="15.00" text-anchor="middle" font-weight="bold" fill="#111">*</text>
<text x="150.4" y="671.5" font-size="8.3" fill="#1c1c1c"><tspan textLength="30.0" lengthAdjust="spacingAndGlyphs">p = 9×10</tspan><tspan dx="0.6" dy="-2.6" font-size="5.2">-2</tspan></text>
<text x="196.4" y="637.2" font-size="8.3" fill="#1c1c1c"><tspan textLength="30.0" lengthAdjust="spacingAndGlyphs">p = 1×10</tspan><tspan dx="0.6" dy="-2.6" font-size="5.2">-2</tspan></text>
<text x="214.6" y="650.4" font-size="15.00" text-anchor="middle" font-weight="bold" fill="#111">*</text>
<text x="225.4" y="684.4" font-size="8.30" textLength="17.6" lengthAdjust="spacingAndGlyphs" fill="#1c1c1c">p = 1</text>
<text x="269.6" y="569.7" font-size="8.3" fill="#1c1c1c"><tspan textLength="30.0" lengthAdjust="spacingAndGlyphs">p = 7×10</tspan><tspan dx="0.6" dy="-2.6" font-size="5.2">-7</tspan></text>
<text x="288.2" y="583.0" font-size="15.00" text-anchor="middle" font-weight="bold" fill="#111">*</text>
<text x="298.8" y="651.1" font-size="8.3" fill="#1c1c1c"><tspan textLength="30.0" lengthAdjust="spacingAndGlyphs">p = 3×10</tspan><tspan dx="0.6" dy="-2.6" font-size="5.2">-2</tspan></text>
<text x="310.6" y="663.8" font-size="15.00" text-anchor="middle" font-weight="bold" fill="#111">*</text>
<rect x="406.2" y="556.4" width="17.0" height="133.7" fill="#ff8000" stroke="#8c6a48" stroke-width="0.8"/>
<rect x="427.1" y="636.6" width="16.8" height="53.5" fill="#3b7fc0" stroke="#3a5878" stroke-width="0.8"/>
<rect x="480.1" y="556.4" width="17.0" height="133.7" fill="#ff8000" stroke="#8c6a48" stroke-width="0.8"/>
<rect x="501.0" y="636.6" width="16.8" height="53.5" fill="#3b7fc0" stroke="#3a5878" stroke-width="0.8"/>
<rect x="553.9" y="569.8" width="17.0" height="120.3" fill="#ff8000" stroke="#8c6a48" stroke-width="0.8"/>
<rect x="574.8" y="650.0" width="16.8" height="40.1" fill="#3b7fc0" stroke="#3a5878" stroke-width="0.8"/>
<rect x="627.8" y="556.4" width="17.0" height="133.7" fill="#ff8000" stroke="#8c6a48" stroke-width="0.8"/>
<rect x="648.6" y="650.0" width="16.8" height="40.1" fill="#3b7fc0" stroke="#3a5878" stroke-width="0.8"/>
<path d="M388.4,489.1 V690.6 M382.4,690.1 H683.6" stroke="#5f5f5f" stroke-width="1" fill="none"/>
<path d="M382.4,623.3 H388.4" stroke="#5f5f5f" stroke-width="1"/>
<path d="M382.4,556.4 H388.4" stroke="#5f5f5f" stroke-width="1"/>
<path d="M382.4,489.6 H388.4" stroke="#5f5f5f" stroke-width="1"/>
<text x="377.6" y="694.7" font-size="10.80" text-anchor="end" fill="#1c1c1c">0</text>
<text x="377.6" y="627.9" font-size="10.80" text-anchor="end" fill="#1c1c1c">5</text>
<text x="377.6" y="561.0" font-size="10.80" text-anchor="end" fill="#1c1c1c">10</text>
<text x="377.6" y="494.2" font-size="10.80" text-anchor="end" fill="#1c1c1c">15</text>
<path d="M425.0,690.1 V696.3" stroke="#5f5f5f" stroke-width="1"/>
<text x="397.1" y="711.0" font-size="11.70" textLength="56.2" lengthAdjust="spacingAndGlyphs" fill="#1c1c1c">Danoprevir</text>
<path d="M498.9,690.1 V696.3" stroke="#5f5f5f" stroke-width="1"/>
<text x="473.2" y="711.0" font-size="11.70" textLength="51.6" lengthAdjust="spacingAndGlyphs" fill="#1c1c1c">Vaniprevir</text>
<path d="M572.7,690.1 V696.3" stroke="#5f5f5f" stroke-width="1"/>
<text x="547.8" y="711.0" font-size="11.70" textLength="50.2" lengthAdjust="spacingAndGlyphs" fill="#1c1c1c">Telaprevir</text>
<path d="M646.5,690.1 V696.3" stroke="#5f5f5f" stroke-width="1"/>
<text x="616.8" y="711.0" font-size="11.70" textLength="60.0" lengthAdjust="spacingAndGlyphs" fill="#1c1c1c">Grazoprevir</text>
<text transform="translate(357.4,589.9) rotate(-90)" text-anchor="middle" font-size="12.1" textLength="43" lengthAdjust="spacingAndGlyphs" fill="#222">Number</text>
<rect x="583.2" y="497.4" width="23.3" height="10.6" fill="#ff8000" stroke="#8c6a48" stroke-width="0.8"/>
<rect x="583.2" y="512.2" width="23.3" height="10.6" fill="#3b7fc0" stroke="#3a5878" stroke-width="0.8"/>
<text x="609.3" y="506.5" font-size="12.10" textLength="50.4" lengthAdjust="spacingAndGlyphs" fill="#222">All DRMs</text>
<text x="609.3" y="521.2" font-size="12.10" textLength="71.6" lengthAdjust="spacingAndGlyphs" fill="#222">All SC-DRMs</text>
<text x="397.0" y="542.6" font-size="8.3" fill="#1c1c1c"><tspan textLength="30.0" lengthAdjust="spacingAndGlyphs">p = 2×10</tspan><tspan dx="0.6" dy="-2.6" font-size="5.2">-9</tspan></text>
<text x="414.6" y="556.7" font-size="15.00" text-anchor="middle" font-weight="bold" fill="#111">*</text>
<text x="426.1" y="624.9" font-size="8.3" fill="#1c1c1c"><tspan textLength="30.0" lengthAdjust="spacingAndGlyphs">p = 4×10</tspan><tspan dx="0.6" dy="-2.6" font-size="5.2">-4</tspan></text>
<text x="436.6" y="636.8" font-size="15.00" text-anchor="middle" font-weight="bold" fill="#111">*</text>
<text x="470.8" y="542.6" font-size="8.3" fill="#1c1c1c"><tspan textLength="30.0" lengthAdjust="spacingAndGlyphs">p = 2×10</tspan><tspan dx="0.6" dy="-2.6" font-size="5.2">-9</tspan></text>
<text x="488.0" y="556.7" font-size="15.00" text-anchor="middle" font-weight="bold" fill="#111">*</text>
<text x="500.0" y="624.9" font-size="8.3" fill="#1c1c1c"><tspan textLength="30.0" lengthAdjust="spacingAndGlyphs">p = 4×10</tspan><tspan dx="0.6" dy="-2.6" font-size="5.2">-4</tspan></text>
<text x="510.0" y="636.8" font-size="15.00" text-anchor="middle" font-weight="bold" fill="#111">*</text>
<text x="544.2" y="557.3" font-size="8.3" fill="#1c1c1c"><tspan textLength="30.0" lengthAdjust="spacingAndGlyphs">p = 6×10</tspan><tspan dx="0.6" dy="-2.6" font-size="5.2">-9</tspan></text>
<text x="562.5" y="570.8" font-size="15.00" text-anchor="middle" font-weight="bold" fill="#111">*</text>
<text x="572.7" y="635.7" font-size="8.3" fill="#1c1c1c"><tspan textLength="30.0" lengthAdjust="spacingAndGlyphs">p = 4×10</tspan><tspan dx="0.6" dy="-2.6" font-size="5.2">-3</tspan></text>
<text x="583.4" y="650.4" font-size="15.00" text-anchor="middle" font-weight="bold" fill="#111">*</text>
<text x="616.6" y="542.4" font-size="8.3" fill="#1c1c1c"><tspan textLength="30.0" lengthAdjust="spacingAndGlyphs">p = 9×10</tspan><tspan dx="0.6" dy="-2.6" font-size="5.2">-10</tspan></text>
<text x="635.8" y="556.9" font-size="15.00" text-anchor="middle" font-weight="bold" fill="#111">*</text>
<text x="646.5" y="635.7" font-size="8.3" fill="#1c1c1c"><tspan textLength="30.0" lengthAdjust="spacingAndGlyphs">p = 6×10</tspan><tspan dx="0.6" dy="-2.6" font-size="5.2">-3</tspan></text>
<text x="657.3" y="650.4" font-size="15.00" text-anchor="middle" font-weight="bold" fill="#111">*</text>
</svg></body></html>
